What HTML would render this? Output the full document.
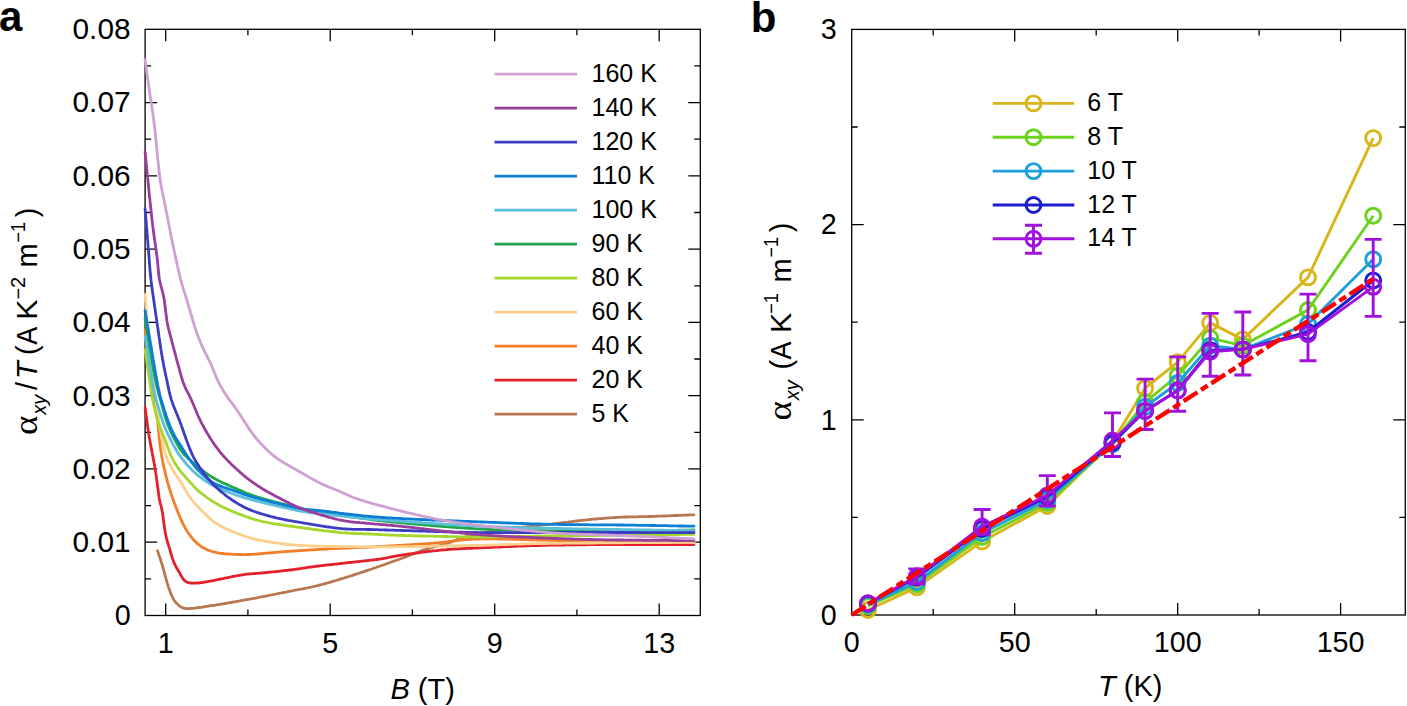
<!DOCTYPE html><html><head><meta charset="utf-8"><style>html,body{margin:0;padding:0;background:#fff;}svg{display:block;}</style></head><body>
<svg width="1407" height="706" viewBox="0 0 1407 706" font-family='"Liberation Sans", sans-serif'>
<rect width="1407" height="706" fill="#fff"/>
<g stroke="#000" stroke-width="1.3" fill="none">
<rect x="145.1" y="29.3" width="555.2" height="586.2"/>
<path d="M165.7,615.5v-12.0M165.7,29.3v12.0"/>
<path d="M247.9,615.5v-6.0M247.9,29.3v6.0"/>
<path d="M330.2,615.5v-12.0M330.2,29.3v12.0"/>
<path d="M412.4,615.5v-6.0M412.4,29.3v6.0"/>
<path d="M494.7,615.5v-12.0M494.7,29.3v12.0"/>
<path d="M576.9,615.5v-6.0M576.9,29.3v6.0"/>
<path d="M659.2,615.5v-12.0M659.2,29.3v12.0"/>
<path d="M145.1,578.9h6.0M700.3,578.9h-6.0"/>
<path d="M145.1,542.2h12.0M700.3,542.2h-12.0"/>
<path d="M145.1,505.6h6.0M700.3,505.6h-6.0"/>
<path d="M145.1,468.9h12.0M700.3,468.9h-12.0"/>
<path d="M145.1,432.3h6.0M700.3,432.3h-6.0"/>
<path d="M145.1,395.7h12.0M700.3,395.7h-12.0"/>
<path d="M145.1,359.0h6.0M700.3,359.0h-6.0"/>
<path d="M145.1,322.4h12.0M700.3,322.4h-12.0"/>
<path d="M145.1,285.8h6.0M700.3,285.8h-6.0"/>
<path d="M145.1,249.1h12.0M700.3,249.1h-12.0"/>
<path d="M145.1,212.5h6.0M700.3,212.5h-6.0"/>
<path d="M145.1,175.8h12.0M700.3,175.8h-12.0"/>
<path d="M145.1,139.2h6.0M700.3,139.2h-6.0"/>
<path d="M145.1,102.6h12.0M700.3,102.6h-12.0"/>
<path d="M145.1,65.9h6.0M700.3,65.9h-6.0"/>
</g>
<g fill="none" stroke-width="2.8" stroke-linejoin="round" stroke-linecap="round">
<path d="M157.5,550.7 L158.0,552.1 L158.5,553.5 L158.9,555.0 L159.4,556.4 L159.9,557.8 L160.4,559.2 L160.8,560.7 L161.3,562.1 L161.7,563.5 L162.2,565.0 L162.6,566.4 L163.0,567.8 L163.4,569.3 L163.8,570.7 L164.2,572.2 L164.6,573.6 L165.0,575.1 L165.4,576.5 L165.8,578.0 L166.2,579.4 L166.6,580.9 L167.0,582.3 L167.4,583.7 L167.9,585.2 L168.3,586.6 L168.8,588.0 L169.3,589.4 L169.8,590.8 L170.3,592.2 L170.9,593.6 L171.5,595.0 L172.1,596.4 L172.7,597.7 L173.4,599.0 L174.2,600.3 L175.1,601.5 L176.0,602.7 L177.0,603.8 L178.1,604.8 L179.2,605.8 L180.4,606.6 L181.7,607.3 L183.0,607.9 L184.4,608.3 L185.9,608.5 L187.3,608.6 L188.8,608.6 L190.3,608.5 L191.8,608.4 L193.3,608.3 L194.8,608.1 L196.3,607.9 L197.8,607.7 L199.2,607.5 L200.7,607.3 L202.2,607.1 L203.7,606.8 L205.2,606.6 L206.7,606.4 L208.1,606.2 L209.6,605.9 L211.1,605.7 L212.6,605.5 L214.1,605.3 L215.6,605.0 L217.0,604.8 L218.5,604.5 L220.0,604.3 L221.5,604.0 L223.0,603.8 L224.4,603.6 L225.9,603.3 L227.4,603.0 L228.9,602.8 L230.4,602.5 L231.8,602.3 L233.3,602.0 L234.8,601.8 L236.3,601.5 L237.7,601.3 L239.2,601.0 L240.7,600.7 L242.2,600.5 L243.7,600.2 L245.1,599.9 L246.6,599.7 L248.1,599.4 L249.6,599.1 L251.0,598.9 L252.5,598.6 L254.0,598.3 L255.5,598.1 L256.9,597.8 L258.4,597.5 L259.9,597.2 L261.3,596.9 L262.8,596.7 L264.3,596.4 L265.8,596.1 L267.2,595.8 L268.7,595.5 L270.2,595.2 L271.7,594.9 L273.1,594.6 L274.6,594.3 L276.1,594.0 L277.5,593.7 L279.0,593.4 L280.5,593.2 L281.9,592.9 L283.4,592.6 L284.9,592.3 L286.4,592.0 L287.8,591.7 L289.3,591.4 L290.8,591.1 L292.2,590.8 L293.7,590.5 L295.2,590.2 L296.7,589.9 L298.1,589.7 L299.6,589.4 L301.1,589.1 L302.6,588.8 L304.0,588.5 L305.5,588.3 L307.0,588.0 L308.4,587.7 L309.9,587.4 L311.4,587.0 L312.8,586.7 L314.3,586.4 L315.8,586.0 L317.2,585.7 L318.7,585.3 L320.1,584.9 L321.6,584.6 L323.0,584.2 L324.5,583.8 L325.9,583.4 L327.4,583.0 L328.8,582.6 L330.3,582.2 L331.7,581.7 L333.1,581.3 L334.6,580.9 L336.0,580.5 L337.4,580.0 L338.9,579.6 L340.3,579.1 L341.7,578.7 L343.2,578.3 L344.6,577.8 L346.0,577.4 L347.5,576.9 L348.9,576.5 L350.3,576.0 L351.8,575.6 L353.2,575.1 L354.6,574.6 L356.0,574.2 L357.5,573.7 L358.9,573.3 L360.3,572.8 L361.8,572.3 L363.2,571.9 L364.6,571.4 L366.0,570.9 L367.4,570.4 L368.9,569.9 L370.3,569.5 L371.7,569.0 L373.1,568.5 L374.5,568.0 L376.0,567.5 L377.4,567.0 L378.8,566.5 L380.2,566.0 L381.6,565.5 L383.0,565.0 L384.5,564.5 L385.9,564.0 L387.3,563.5 L388.7,563.0 L390.1,562.5 L391.5,562.0 L392.9,561.5 L394.3,561.0 L395.8,560.5 L397.2,560.0 L398.6,559.5 L400.0,559.0 L401.4,558.5 L402.8,558.0 L404.2,557.4 L405.6,556.9 L407.0,556.4 L408.4,555.8 L409.8,555.3 L411.2,554.7 L412.6,554.2 L414.0,553.6 L415.4,553.1 L416.8,552.5 L418.2,552.0 L419.6,551.5 L421.0,550.9 L422.4,550.4 L423.8,549.9 L425.2,549.5 L426.7,549.0 L428.1,548.6 L429.5,548.1 L431.0,547.7 L432.4,547.3 L433.9,547.0 L435.3,546.6 L436.8,546.2 L438.3,545.9 L439.7,545.5 L441.2,545.1 L442.6,544.8 L444.1,544.4 L445.5,544.0 L446.9,543.5 L448.4,543.1 L449.8,542.5 L451.2,542.0 L452.6,541.4 L453.9,540.9 L455.3,540.3 L456.7,539.8 L458.1,539.3 L459.6,538.8 L461.0,538.3 L462.4,537.9 L463.9,537.5 L465.3,537.0 L466.7,536.6 L468.2,536.2 L469.6,535.8 L471.1,535.5 L472.5,535.1 L474.0,534.8 L475.5,534.4 L476.9,534.1 L478.4,533.8 L479.9,533.5 L481.4,533.3 L482.8,533.0 L484.3,532.7 L485.8,532.5 L487.3,532.2 L488.7,532.0 L490.2,531.8 L491.7,531.5 L493.2,531.3 L494.7,531.1 L496.2,530.8 L497.6,530.6 L499.1,530.4 L500.6,530.2 L502.1,530.0 L503.6,529.7 L505.1,529.5 L506.5,529.3 L508.0,529.1 L509.5,528.9 L511.0,528.7 L512.5,528.5 L514.0,528.3 L515.5,528.1 L516.9,527.9 L518.4,527.7 L519.9,527.5 L521.4,527.3 L522.9,527.1 L524.4,527.0 L525.9,526.8 L527.4,526.6 L528.9,526.4 L530.3,526.3 L531.8,526.1 L533.3,525.9 L534.8,525.8 L536.3,525.6 L537.8,525.5 L539.3,525.3 L540.8,525.1 L542.3,525.0 L543.8,524.8 L545.3,524.7 L546.8,524.5 L548.2,524.4 L549.7,524.2 L551.2,524.1 L552.7,523.9 L554.2,523.7 L555.7,523.6 L557.2,523.4 L558.7,523.2 L560.2,523.1 L561.7,522.9 L563.2,522.7 L564.6,522.5 L566.1,522.3 L567.6,522.2 L569.1,522.0 L570.6,521.8 L572.1,521.6 L573.6,521.4 L575.1,521.2 L576.5,521.0 L578.0,520.8 L579.5,520.6 L581.0,520.4 L582.5,520.3 L584.0,520.1 L585.5,520.0 L587.0,519.8 L588.5,519.7 L590.0,519.5 L591.5,519.4 L592.9,519.2 L594.4,519.1 L595.9,519.0 L597.4,518.8 L598.9,518.7 L600.4,518.6 L601.9,518.5 L603.4,518.3 L604.9,518.2 L606.4,518.1 L607.9,518.0 L609.4,517.9 L610.9,517.8 L612.4,517.7 L613.9,517.6 L615.4,517.5 L616.9,517.4 L618.4,517.3 L619.9,517.2 L621.4,517.2 L622.9,517.1 L624.4,517.0 L625.9,517.0 L627.4,517.0 L628.9,516.9 L630.4,516.9 L631.9,516.9 L633.4,516.8 L634.9,516.8 L636.4,516.8 L637.9,516.8 L639.4,516.7 L640.9,516.7 L642.4,516.7 L643.9,516.7 L645.4,516.6 L646.9,516.6 L648.4,516.5 L649.9,516.5 L651.4,516.5 L652.9,516.4 L654.4,516.3 L655.9,516.3 L657.4,516.2 L658.9,516.2 L660.4,516.1 L661.9,516.1 L663.4,516.0 L664.8,516.0 L666.3,515.9 L667.8,515.8 L669.3,515.8 L670.8,515.7 L672.3,515.7 L673.8,515.6 L675.3,515.5 L676.8,515.5 L678.3,515.4 L679.8,515.4 L681.3,515.3 L682.8,515.2 L684.3,515.2 L685.8,515.1 L687.3,515.1 L688.8,515.0 L690.3,514.9 L691.7,514.9 L693.1,514.8 L694.0,514.8" stroke="#b7774f"/>
<path d="M145.1,407.8 L145.3,409.3 L145.5,410.8 L145.7,412.3 L145.9,413.7 L146.1,415.2 L146.3,416.7 L146.5,418.2 L146.7,419.7 L146.9,421.2 L147.1,422.7 L147.3,424.2 L147.5,425.6 L147.7,427.1 L147.9,428.6 L148.1,430.1 L148.4,431.6 L148.6,433.1 L148.8,434.5 L149.1,436.0 L149.3,437.5 L149.6,439.0 L149.9,440.5 L150.1,441.9 L150.4,443.4 L150.7,444.9 L150.9,446.4 L151.2,447.8 L151.5,449.3 L151.8,450.8 L152.1,452.2 L152.3,453.7 L152.6,455.2 L152.9,456.7 L153.2,458.1 L153.5,459.6 L153.7,461.1 L154.0,462.6 L154.3,464.0 L154.6,465.5 L154.8,467.0 L155.1,468.5 L155.3,470.0 L155.5,471.4 L155.7,472.9 L156.0,474.4 L156.2,475.9 L156.4,477.4 L156.6,478.9 L156.8,480.3 L157.0,481.8 L157.2,483.3 L157.4,484.8 L157.6,486.3 L157.8,487.8 L158.0,489.3 L158.2,490.8 L158.4,492.2 L158.6,493.7 L158.8,495.2 L159.0,496.7 L159.2,498.2 L159.5,499.7 L159.8,501.1 L160.1,502.6 L160.5,504.0 L160.9,505.5 L161.3,506.9 L161.6,508.4 L162.0,509.8 L162.2,511.3 L162.5,512.8 L162.7,514.3 L162.9,515.7 L163.1,517.2 L163.3,518.7 L163.5,520.2 L163.7,521.7 L163.9,523.2 L164.1,524.7 L164.3,526.2 L164.5,527.6 L164.7,529.1 L164.9,530.6 L165.2,532.1 L165.5,533.6 L165.8,535.0 L166.1,536.5 L166.4,537.9 L166.8,539.4 L167.2,540.8 L167.6,542.3 L168.1,543.7 L168.5,545.2 L168.9,546.6 L169.4,548.0 L169.8,549.5 L170.2,550.9 L170.6,552.3 L171.1,553.8 L171.5,555.2 L171.9,556.7 L172.3,558.1 L172.8,559.5 L173.3,560.9 L173.9,562.3 L174.5,563.7 L175.1,565.0 L175.8,566.4 L176.5,567.7 L177.3,569.0 L178.0,570.3 L178.8,571.6 L179.6,572.8 L180.3,574.1 L181.0,575.5 L181.8,576.8 L182.5,578.0 L183.3,579.2 L184.3,580.3 L185.4,581.2 L186.6,581.9 L187.9,582.4 L189.3,582.8 L190.8,583.0 L192.3,583.2 L193.8,583.2 L195.3,583.2 L196.8,583.2 L198.2,583.0 L199.7,582.9 L201.2,582.7 L202.7,582.5 L204.2,582.2 L205.7,582.0 L207.1,581.7 L208.6,581.4 L210.1,581.1 L211.6,580.8 L213.0,580.6 L214.5,580.3 L216.0,580.0 L217.5,579.7 L218.9,579.4 L220.4,579.1 L221.9,578.8 L223.3,578.5 L224.8,578.2 L226.3,577.9 L227.7,577.6 L229.2,577.3 L230.7,577.0 L232.1,576.7 L233.6,576.4 L235.1,576.1 L236.6,575.8 L238.0,575.5 L239.5,575.3 L241.0,575.0 L242.5,574.8 L243.9,574.6 L245.4,574.4 L246.9,574.2 L248.4,574.0 L249.9,573.9 L251.4,573.8 L252.9,573.7 L254.4,573.6 L255.9,573.4 L257.4,573.3 L258.9,573.2 L260.4,573.1 L261.9,572.9 L263.4,572.8 L264.9,572.6 L266.3,572.5 L267.8,572.4 L269.3,572.2 L270.8,572.1 L272.3,571.9 L273.8,571.8 L275.3,571.6 L276.8,571.5 L278.3,571.3 L279.8,571.2 L281.3,571.0 L282.8,570.9 L284.3,570.7 L285.7,570.5 L287.2,570.4 L288.7,570.2 L290.2,570.0 L291.7,569.8 L293.2,569.6 L294.7,569.4 L296.2,569.2 L297.6,569.0 L299.1,568.8 L300.6,568.5 L302.1,568.3 L303.6,568.1 L305.1,567.9 L306.5,567.6 L308.0,567.4 L309.5,567.2 L311.0,567.0 L312.5,566.8 L314.0,566.6 L315.5,566.4 L316.9,566.2 L318.4,566.0 L319.9,565.8 L321.4,565.6 L322.9,565.5 L324.4,565.3 L325.9,565.1 L327.4,564.9 L328.9,564.8 L330.4,564.6 L331.8,564.5 L333.3,564.3 L334.8,564.1 L336.3,564.0 L337.8,563.8 L339.3,563.6 L340.8,563.5 L342.3,563.3 L343.8,563.2 L345.3,563.0 L346.8,562.9 L348.3,562.7 L349.7,562.5 L351.2,562.4 L352.7,562.2 L354.2,562.1 L355.7,561.9 L357.2,561.7 L358.7,561.6 L360.2,561.4 L361.7,561.2 L363.2,561.1 L364.7,560.9 L366.1,560.7 L367.6,560.6 L369.1,560.4 L370.6,560.2 L372.1,560.1 L373.6,559.9 L375.1,559.7 L376.6,559.5 L378.1,559.3 L379.5,559.1 L381.0,558.8 L382.5,558.6 L384.0,558.4 L385.5,558.1 L386.9,557.8 L388.4,557.5 L389.9,557.2 L391.3,556.9 L392.8,556.6 L394.3,556.3 L395.7,556.0 L397.2,555.8 L398.7,555.5 L400.2,555.3 L401.7,555.1 L403.2,554.8 L404.6,554.6 L406.1,554.4 L407.6,554.2 L409.1,554.0 L410.6,553.8 L412.1,553.6 L413.5,553.4 L415.0,553.2 L416.5,553.0 L418.0,552.8 L419.5,552.6 L421.0,552.4 L422.5,552.2 L424.0,552.0 L425.4,551.8 L426.9,551.6 L428.4,551.4 L429.9,551.3 L431.4,551.1 L432.9,550.9 L434.4,550.8 L435.9,550.6 L437.4,550.5 L438.9,550.3 L440.4,550.2 L441.9,550.0 L443.3,549.9 L444.8,549.8 L446.3,549.7 L447.8,549.5 L449.3,549.4 L450.8,549.3 L452.3,549.2 L453.8,549.1 L455.3,549.0 L456.8,549.0 L458.3,548.9 L459.8,548.8 L461.3,548.7 L462.8,548.7 L464.3,548.6 L465.8,548.5 L467.3,548.4 L468.8,548.4 L470.3,548.3 L471.8,548.3 L473.3,548.2 L474.8,548.1 L476.3,548.1 L477.8,548.0 L479.3,547.9 L480.8,547.9 L482.3,547.8 L483.8,547.7 L485.3,547.7 L486.8,547.6 L488.3,547.5 L489.8,547.5 L491.3,547.4 L492.8,547.3 L494.3,547.2 L495.8,547.2 L497.3,547.1 L498.8,547.0 L500.3,547.0 L501.8,546.9 L503.3,546.8 L504.8,546.7 L506.3,546.7 L507.8,546.6 L509.3,546.5 L510.8,546.5 L512.3,546.4 L513.8,546.3 L515.3,546.3 L516.7,546.2 L518.2,546.2 L519.7,546.1 L521.2,546.0 L522.7,546.0 L524.2,545.9 L525.7,545.9 L527.2,545.8 L528.7,545.8 L530.2,545.7 L531.7,545.7 L533.2,545.6 L534.7,545.6 L536.2,545.5 L537.7,545.5 L539.2,545.5 L540.7,545.4 L542.2,545.4 L543.7,545.3 L545.2,545.3 L546.7,545.3 L548.2,545.2 L549.7,545.2 L551.2,545.2 L552.7,545.1 L554.2,545.1 L555.7,545.1 L557.2,545.0 L558.7,545.0 L560.2,545.0 L561.7,545.0 L563.2,545.0 L564.7,544.9 L566.2,544.9 L567.7,544.9 L569.2,544.9 L570.7,544.9 L572.2,544.9 L573.7,544.8 L575.2,544.8 L576.7,544.8 L578.2,544.8 L579.7,544.8 L581.2,544.8 L582.7,544.8 L584.2,544.8 L585.7,544.8 L587.2,544.7 L588.7,544.7 L590.2,544.7 L591.7,544.7 L593.2,544.7 L594.7,544.7 L596.2,544.7 L597.7,544.7 L599.2,544.7 L600.7,544.7 L602.2,544.7 L603.7,544.7 L605.2,544.7 L606.7,544.7 L608.2,544.7 L609.7,544.7 L611.2,544.7 L612.7,544.6 L614.2,544.6 L615.7,544.6 L617.2,544.6 L618.7,544.6 L620.2,544.6 L621.7,544.6 L623.2,544.6 L624.7,544.6 L626.2,544.6 L627.7,544.6 L629.2,544.6 L630.7,544.6 L632.2,544.6 L633.7,544.6 L635.2,544.6 L636.7,544.6 L638.2,544.6 L639.7,544.6 L641.2,544.6 L642.7,544.6 L644.2,544.6 L645.7,544.6 L647.2,544.6 L648.7,544.6 L650.2,544.6 L651.7,544.6 L653.2,544.6 L654.7,544.6 L656.2,544.6 L657.7,544.6 L659.2,544.6 L660.7,544.6 L662.2,544.6 L663.7,544.6 L665.2,544.6 L666.7,544.6 L668.2,544.6 L669.7,544.6 L671.2,544.6 L672.7,544.6 L674.2,544.6 L675.7,544.6 L677.2,544.6 L678.7,544.6 L680.2,544.6 L681.7,544.6 L683.2,544.6 L684.7,544.6 L686.2,544.6 L687.7,544.6 L689.2,544.6 L690.7,544.6 L692.1,544.6 L693.5,544.6 L694.0,544.6" stroke="#e3202b"/>
<path d="M145.1,330.0 L145.2,331.5 L145.4,333.0 L145.5,334.5 L145.7,336.0 L145.8,337.5 L145.9,339.0 L146.1,340.5 L146.2,341.9 L146.4,343.4 L146.5,344.9 L146.6,346.4 L146.8,347.9 L147.0,349.4 L147.1,350.9 L147.3,352.4 L147.5,353.9 L147.7,355.4 L147.9,356.9 L148.1,358.3 L148.3,359.8 L148.5,361.3 L148.8,362.8 L149.1,364.3 L149.3,365.7 L149.6,367.2 L149.9,368.7 L150.2,370.2 L150.5,371.6 L150.8,373.1 L151.1,374.6 L151.4,376.0 L151.6,377.5 L151.9,379.0 L152.2,380.5 L152.5,381.9 L152.7,383.4 L153.0,384.9 L153.2,386.4 L153.4,387.9 L153.7,389.3 L153.9,390.8 L154.1,392.3 L154.3,393.8 L154.5,395.3 L154.7,396.8 L154.9,398.2 L155.1,399.7 L155.3,401.2 L155.5,402.7 L155.7,404.2 L155.9,405.7 L156.1,407.2 L156.2,408.7 L156.4,410.2 L156.6,411.6 L156.8,413.1 L156.9,414.6 L157.1,416.1 L157.3,417.6 L157.4,419.1 L157.6,420.6 L157.7,422.1 L157.9,423.6 L158.0,425.1 L158.2,426.6 L158.3,428.1 L158.4,429.5 L158.6,431.0 L158.7,432.5 L158.9,434.0 L159.0,435.5 L159.2,437.0 L159.3,438.5 L159.5,440.0 L159.6,441.5 L159.8,443.0 L160.0,444.5 L160.2,446.0 L160.3,447.4 L160.6,448.9 L160.8,450.4 L161.0,451.9 L161.2,453.4 L161.5,454.9 L161.7,456.3 L162.0,457.8 L162.3,459.3 L162.6,460.8 L162.9,462.2 L163.2,463.7 L163.5,465.2 L163.8,466.6 L164.1,468.1 L164.5,469.6 L164.8,471.0 L165.1,472.5 L165.5,473.9 L165.8,475.4 L166.2,476.8 L166.6,478.3 L167.0,479.8 L167.3,481.2 L167.7,482.6 L168.2,484.1 L168.6,485.5 L169.0,487.0 L169.4,488.4 L169.9,489.8 L170.3,491.3 L170.8,492.7 L171.2,494.1 L171.7,495.5 L172.2,497.0 L172.7,498.4 L173.2,499.8 L173.7,501.2 L174.2,502.6 L174.7,504.0 L175.2,505.4 L175.8,506.8 L176.3,508.2 L176.9,509.6 L177.4,511.0 L178.0,512.4 L178.6,513.8 L179.1,515.2 L179.7,516.6 L180.3,517.9 L180.9,519.3 L181.5,520.7 L182.2,522.0 L182.8,523.4 L183.5,524.7 L184.2,526.1 L184.9,527.4 L185.6,528.7 L186.4,530.0 L187.2,531.2 L188.0,532.5 L188.8,533.7 L189.7,535.0 L190.6,536.2 L191.5,537.3 L192.5,538.5 L193.5,539.6 L194.5,540.7 L195.6,541.8 L196.6,542.8 L197.8,543.8 L198.9,544.8 L200.1,545.7 L201.3,546.5 L202.6,547.3 L203.9,548.1 L205.2,548.8 L206.6,549.4 L207.9,550.0 L209.3,550.5 L210.7,551.0 L212.2,551.5 L213.6,551.9 L215.1,552.2 L216.5,552.6 L218.0,552.8 L219.5,553.1 L221.0,553.3 L222.5,553.5 L223.9,553.7 L225.4,553.8 L226.9,553.9 L228.4,554.0 L229.9,554.1 L231.4,554.2 L232.9,554.3 L234.4,554.4 L235.9,554.4 L237.4,554.5 L238.9,554.5 L240.4,554.5 L241.9,554.6 L243.4,554.6 L244.9,554.6 L246.4,554.6 L247.9,554.5 L249.4,554.5 L250.9,554.4 L252.4,554.3 L253.9,554.2 L255.4,554.1 L256.9,554.0 L258.4,553.8 L259.9,553.7 L261.4,553.6 L262.9,553.5 L264.4,553.4 L265.9,553.2 L267.4,553.1 L268.8,553.0 L270.3,552.8 L271.8,552.7 L273.3,552.6 L274.8,552.4 L276.3,552.3 L277.8,552.2 L279.3,552.1 L280.8,551.9 L282.3,551.8 L283.8,551.7 L285.3,551.6 L286.8,551.5 L288.3,551.4 L289.8,551.3 L291.3,551.2 L292.8,551.1 L294.3,551.0 L295.8,550.9 L297.3,550.8 L298.8,550.7 L300.3,550.6 L301.8,550.5 L303.2,550.4 L304.7,550.3 L306.2,550.2 L307.7,550.1 L309.2,550.0 L310.7,549.9 L312.2,549.9 L313.7,549.8 L315.2,549.7 L316.7,549.6 L318.2,549.5 L319.7,549.4 L321.2,549.3 L322.7,549.2 L324.2,549.2 L325.7,549.1 L327.2,549.0 L328.7,548.9 L330.2,548.8 L331.7,548.7 L333.2,548.7 L334.7,548.6 L336.2,548.5 L337.7,548.4 L339.2,548.3 L340.7,548.3 L342.2,548.2 L343.7,548.1 L345.2,548.1 L346.7,548.0 L348.2,547.9 L349.7,547.9 L351.2,547.8 L352.7,547.7 L354.2,547.7 L355.7,547.6 L357.2,547.6 L358.7,547.5 L360.2,547.4 L361.7,547.4 L363.2,547.3 L364.7,547.3 L366.2,547.2 L367.7,547.1 L369.2,547.1 L370.7,547.0 L372.2,546.9 L373.7,546.9 L375.2,546.8 L376.7,546.7 L378.2,546.6 L379.6,546.5 L381.1,546.4 L382.6,546.4 L384.1,546.3 L385.6,546.2 L387.1,546.1 L388.6,546.0 L390.1,545.9 L391.6,545.9 L393.1,545.8 L394.6,545.7 L396.1,545.6 L397.6,545.5 L399.1,545.4 L400.6,545.3 L402.1,545.2 L403.6,545.2 L405.1,545.1 L406.6,545.0 L408.1,544.9 L409.6,544.8 L411.1,544.7 L412.6,544.6 L414.1,544.5 L415.6,544.4 L417.1,544.3 L418.6,544.2 L420.1,544.1 L421.6,544.0 L423.1,543.9 L424.6,543.8 L426.1,543.7 L427.6,543.6 L429.1,543.5 L430.6,543.4 L432.0,543.3 L433.5,543.2 L435.0,543.0 L436.5,542.9 L438.0,542.8 L439.5,542.6 L441.0,542.5 L442.5,542.3 L444.0,542.1 L445.5,542.0 L447.0,541.8 L448.5,541.6 L449.9,541.4 L451.4,541.2 L452.9,541.0 L454.4,540.8 L455.9,540.7 L457.4,540.5 L458.9,540.3 L460.4,540.1 L461.9,540.0 L463.4,539.9 L464.8,539.7 L466.3,539.6 L467.8,539.5 L469.3,539.4 L470.8,539.3 L472.3,539.2 L473.8,539.1 L475.3,539.1 L476.8,539.0 L478.3,539.0 L479.8,538.9 L481.3,538.9 L482.8,538.9 L484.3,538.8 L485.8,538.8 L487.3,538.8 L488.8,538.8 L490.3,538.8 L491.8,538.8 L493.3,538.9 L494.8,538.9 L496.3,538.9 L497.8,538.9 L499.3,538.9 L500.8,539.0 L502.3,539.0 L503.8,539.0 L505.3,539.1 L506.8,539.1 L508.3,539.1 L509.8,539.2 L511.3,539.2 L512.8,539.3 L514.3,539.3 L515.8,539.4 L517.3,539.4 L518.8,539.4 L520.3,539.5 L521.8,539.5 L523.3,539.6 L524.8,539.6 L526.3,539.7 L527.8,539.7 L529.3,539.8 L530.8,539.8 L532.3,539.9 L533.8,539.9 L535.3,539.9 L536.8,540.0 L538.3,540.0 L539.8,540.1 L541.3,540.1 L542.8,540.1 L544.3,540.2 L545.8,540.2 L547.3,540.2 L548.8,540.3 L550.3,540.3 L551.8,540.3 L553.3,540.4 L554.8,540.4 L556.3,540.4 L557.8,540.5 L559.3,540.5 L560.8,540.5 L562.3,540.5 L563.8,540.6 L565.3,540.6 L566.8,540.6 L568.3,540.6 L569.8,540.6 L571.3,540.7 L572.8,540.7 L574.3,540.7 L575.8,540.7 L577.3,540.8 L578.8,540.8 L580.3,540.8 L581.8,540.8 L583.3,540.8 L584.8,540.9 L586.3,540.9 L587.8,540.9 L589.3,540.9 L590.8,540.9 L592.3,541.0 L593.8,541.0 L595.3,541.0 L596.8,541.0 L598.3,541.1 L599.8,541.1 L601.3,541.1 L602.8,541.1 L604.3,541.1 L605.8,541.2 L607.3,541.2 L608.8,541.2 L610.3,541.2 L611.8,541.2 L613.3,541.3 L614.8,541.3 L616.3,541.3 L617.8,541.3 L619.3,541.3 L620.8,541.4 L622.3,541.4 L623.8,541.4 L625.3,541.4 L626.8,541.4 L628.3,541.5 L629.8,541.5 L631.3,541.5 L632.8,541.5 L634.3,541.5 L635.8,541.5 L637.3,541.6 L638.8,541.6 L640.3,541.6 L641.8,541.6 L643.3,541.6 L644.8,541.7 L646.3,541.7 L647.8,541.7 L649.3,541.7 L650.8,541.7 L652.3,541.8 L653.8,541.8 L655.3,541.8 L656.8,541.8 L658.3,541.8 L659.8,541.9 L661.3,541.9 L662.8,541.9 L664.3,541.9 L665.8,541.9 L667.3,542.0 L668.8,542.0 L670.3,542.0 L671.8,542.0 L673.3,542.0 L674.8,542.1 L676.3,542.1 L677.8,542.1 L679.3,542.1 L680.8,542.1 L682.3,542.1 L683.8,542.2 L685.3,542.2 L686.8,542.2 L688.3,542.2 L689.8,542.2 L691.2,542.3 L692.6,542.3 L694.0,542.3" stroke="#f47d2a"/>
<path d="M145.1,294.4 L145.2,295.9 L145.3,297.4 L145.4,298.9 L145.5,300.4 L145.6,301.9 L145.8,303.4 L145.9,304.9 L146.0,306.4 L146.1,307.9 L146.2,309.4 L146.3,310.9 L146.4,312.4 L146.5,313.8 L146.6,315.3 L146.8,316.8 L146.9,318.3 L147.0,319.8 L147.1,321.3 L147.2,322.8 L147.3,324.3 L147.4,325.8 L147.6,327.3 L147.7,328.8 L147.8,330.3 L147.9,331.8 L148.0,333.3 L148.1,334.8 L148.2,336.3 L148.4,337.8 L148.5,339.3 L148.6,340.8 L148.7,342.3 L148.9,343.8 L149.0,345.2 L149.2,346.7 L149.3,348.2 L149.5,349.7 L149.7,351.2 L149.8,352.7 L150.0,354.2 L150.2,355.7 L150.4,357.2 L150.6,358.7 L150.8,360.1 L151.0,361.6 L151.2,363.1 L151.4,364.6 L151.6,366.1 L151.9,367.6 L152.1,369.1 L152.3,370.5 L152.5,372.0 L152.7,373.5 L152.9,375.0 L153.1,376.5 L153.3,378.0 L153.5,379.4 L153.7,380.9 L153.9,382.4 L154.1,383.9 L154.3,385.4 L154.5,386.9 L154.6,388.4 L154.8,389.9 L155.0,391.4 L155.2,392.8 L155.3,394.3 L155.5,395.8 L155.7,397.3 L155.9,398.8 L156.1,400.3 L156.2,401.8 L156.4,403.3 L156.6,404.8 L156.8,406.2 L157.0,407.7 L157.2,409.2 L157.4,410.7 L157.6,412.2 L157.8,413.7 L158.0,415.2 L158.3,416.6 L158.5,418.1 L158.7,419.6 L158.9,421.1 L159.1,422.6 L159.4,424.1 L159.6,425.5 L159.8,427.0 L160.1,428.5 L160.3,430.0 L160.6,431.5 L160.8,432.9 L161.1,434.4 L161.3,435.9 L161.6,437.4 L161.9,438.9 L162.2,440.3 L162.4,441.8 L162.8,443.3 L163.1,444.7 L163.4,446.2 L163.8,447.7 L164.1,449.1 L164.5,450.6 L164.9,452.0 L165.4,453.4 L165.8,454.9 L166.3,456.3 L166.8,457.7 L167.4,459.1 L168.0,460.5 L168.6,461.8 L169.2,463.2 L169.8,464.5 L170.5,465.9 L171.2,467.2 L171.9,468.5 L172.6,469.8 L173.4,471.1 L174.2,472.4 L175.1,473.6 L175.9,474.9 L176.8,476.1 L177.6,477.3 L178.5,478.6 L179.3,479.8 L180.1,481.1 L180.9,482.3 L181.7,483.6 L182.5,484.9 L183.2,486.2 L183.9,487.5 L184.7,488.8 L185.4,490.1 L186.2,491.4 L186.9,492.7 L187.7,494.0 L188.6,495.2 L189.4,496.5 L190.3,497.7 L191.2,498.9 L192.1,500.1 L193.0,501.2 L194.0,502.4 L195.0,503.5 L195.9,504.7 L197.0,505.8 L198.0,506.9 L199.0,508.0 L200.1,509.0 L201.1,510.1 L202.2,511.2 L203.2,512.2 L204.3,513.3 L205.4,514.3 L206.4,515.4 L207.5,516.4 L208.6,517.4 L209.8,518.4 L210.9,519.4 L212.1,520.3 L213.2,521.3 L214.4,522.1 L215.7,523.0 L216.9,523.8 L218.2,524.6 L219.5,525.4 L220.8,526.1 L222.1,526.8 L223.4,527.5 L224.8,528.2 L226.1,528.8 L227.5,529.4 L228.9,530.0 L230.3,530.6 L231.6,531.2 L233.0,531.8 L234.4,532.3 L235.8,532.9 L237.2,533.4 L238.6,534.0 L240.0,534.5 L241.4,535.0 L242.8,535.5 L244.3,536.0 L245.7,536.5 L247.1,536.9 L248.6,537.3 L250.0,537.8 L251.4,538.1 L252.9,538.5 L254.3,538.9 L255.8,539.2 L257.3,539.6 L258.7,539.9 L260.2,540.2 L261.7,540.5 L263.1,540.8 L264.6,541.1 L266.1,541.4 L267.6,541.7 L269.0,541.9 L270.5,542.1 L272.0,542.4 L273.5,542.6 L275.0,542.8 L276.5,543.0 L277.9,543.2 L279.4,543.4 L280.9,543.6 L282.4,543.8 L283.9,544.0 L285.4,544.1 L286.9,544.3 L288.4,544.5 L289.9,544.6 L291.3,544.8 L292.8,544.9 L294.3,545.0 L295.8,545.1 L297.3,545.2 L298.8,545.3 L300.3,545.4 L301.8,545.5 L303.3,545.6 L304.8,545.6 L306.3,545.7 L307.8,545.8 L309.3,545.8 L310.8,545.9 L312.3,546.0 L313.8,546.0 L315.3,546.1 L316.8,546.1 L318.3,546.2 L319.8,546.2 L321.3,546.2 L322.8,546.3 L324.3,546.3 L325.8,546.4 L327.3,546.4 L328.8,546.4 L330.3,546.4 L331.8,546.5 L333.3,546.5 L334.8,546.5 L336.3,546.5 L337.8,546.6 L339.3,546.6 L340.8,546.6 L342.3,546.6 L343.8,546.6 L345.3,546.7 L346.8,546.7 L348.3,546.7 L349.8,546.7 L351.3,546.7 L352.8,546.7 L354.3,546.7 L355.8,546.7 L357.3,546.8 L358.8,546.8 L360.3,546.8 L361.8,546.8 L363.3,546.8 L364.8,546.8 L366.3,546.8 L367.8,546.8 L369.3,546.8 L370.8,546.8 L372.3,546.8 L373.8,546.8 L375.3,546.8 L376.8,546.8 L378.3,546.8 L379.8,546.8 L381.3,546.8 L382.8,546.8 L384.3,546.8 L385.8,546.8 L387.3,546.8 L388.8,546.8 L390.3,546.8 L391.8,546.8 L393.3,546.8 L394.8,546.7 L396.3,546.7 L397.8,546.7 L399.3,546.7 L400.8,546.7 L402.3,546.7 L403.8,546.7 L405.3,546.6 L406.8,546.6 L408.3,546.6 L409.8,546.6 L411.3,546.6 L412.8,546.6 L414.3,546.5 L415.8,546.5 L417.3,546.5 L418.8,546.5 L420.3,546.4 L421.8,546.4 L423.3,546.4 L424.8,546.4 L426.3,546.3 L427.8,546.3 L429.3,546.3 L430.8,546.3 L432.3,546.2 L433.8,546.2 L435.3,546.2 L436.8,546.2 L438.3,546.1 L439.8,546.1 L441.3,546.1 L442.8,546.1 L444.3,546.0 L445.8,546.0 L447.3,546.0 L448.8,545.9 L450.3,545.9 L451.8,545.9 L453.3,545.9 L454.8,545.8 L456.3,545.8 L457.8,545.8 L459.3,545.7 L460.8,545.7 L462.3,545.7 L463.8,545.6 L465.3,545.6 L466.8,545.6 L468.3,545.6 L469.8,545.5 L471.3,545.5 L472.8,545.5 L474.3,545.4 L475.8,545.4 L477.3,545.4 L478.8,545.3 L480.3,545.3 L481.8,545.3 L483.3,545.2 L484.8,545.2 L486.3,545.1 L487.8,545.1 L489.3,545.1 L490.8,545.0 L492.3,545.0 L493.8,544.9 L495.3,544.9 L496.8,544.8 L498.3,544.8 L499.8,544.7 L501.3,544.7 L502.8,544.6 L504.3,544.6 L505.8,544.5 L507.3,544.5 L508.8,544.4 L510.3,544.4 L511.8,544.3 L513.3,544.3 L514.8,544.2 L516.3,544.2 L517.8,544.1 L519.3,544.1 L520.8,544.0 L522.3,544.0 L523.8,543.9 L525.3,543.9 L526.8,543.9 L528.3,543.8 L529.8,543.8 L531.3,543.7 L532.8,543.7 L534.3,543.7 L535.8,543.6 L537.3,543.6 L538.8,543.6 L540.3,543.6 L541.8,543.5 L543.3,543.5 L544.8,543.5 L546.3,543.5 L547.8,543.4 L549.3,543.4 L550.8,543.4 L552.3,543.4 L553.8,543.4 L555.3,543.3 L556.8,543.3 L558.3,543.3 L559.8,543.3 L561.3,543.3 L562.8,543.2 L564.3,543.2 L565.8,543.2 L567.3,543.2 L568.8,543.2 L570.3,543.2 L571.8,543.2 L573.3,543.1 L574.8,543.1 L576.3,543.1 L577.8,543.1 L579.3,543.1 L580.8,543.1 L582.3,543.1 L583.8,543.0 L585.3,543.0 L586.8,543.0 L588.3,543.0 L589.8,543.0 L591.3,543.0 L592.8,543.0 L594.3,543.0 L595.8,542.9 L597.3,542.9 L598.8,542.9 L600.3,542.9 L601.8,542.9 L603.3,542.9 L604.8,542.9 L606.3,542.9 L607.8,542.9 L609.3,542.8 L610.8,542.8 L612.3,542.8 L613.8,542.8 L615.3,542.8 L616.8,542.8 L618.3,542.8 L619.8,542.8 L621.3,542.8 L622.8,542.8 L624.3,542.7 L625.8,542.7 L627.3,542.7 L628.8,542.7 L630.3,542.7 L631.8,542.7 L633.3,542.7 L634.8,542.7 L636.3,542.7 L637.8,542.7 L639.3,542.6 L640.8,542.6 L642.3,542.6 L643.8,542.6 L645.3,542.6 L646.8,542.6 L648.3,542.6 L649.8,542.6 L651.3,542.6 L652.8,542.6 L654.3,542.6 L655.8,542.5 L657.3,542.5 L658.8,542.5 L660.3,542.5 L661.8,542.5 L663.3,542.5 L664.8,542.5 L666.3,542.5 L667.8,542.5 L669.3,542.5 L670.8,542.5 L672.3,542.4 L673.8,542.4 L675.3,542.4 L676.8,542.4 L678.3,542.4 L679.8,542.4 L681.3,542.4 L682.8,542.4 L684.3,542.4 L685.8,542.4 L687.3,542.3 L688.7,542.3 L690.2,542.3 L691.7,542.3 L693.1,542.3 L694.0,542.3" stroke="#fdcf8c"/>
<path d="M145.1,349.7 L145.3,351.2 L145.5,352.7 L145.7,354.2 L145.9,355.6 L146.2,357.1 L146.4,358.6 L146.6,360.1 L146.8,361.6 L147.0,363.1 L147.2,364.6 L147.4,366.0 L147.6,367.5 L147.9,369.0 L148.1,370.5 L148.3,372.0 L148.5,373.5 L148.7,374.9 L148.9,376.4 L149.2,377.9 L149.4,379.4 L149.6,380.9 L149.8,382.4 L150.1,383.8 L150.3,385.3 L150.5,386.8 L150.7,388.3 L151.0,389.8 L151.2,391.3 L151.4,392.7 L151.6,394.2 L151.9,395.7 L152.2,397.2 L152.4,398.6 L152.7,400.1 L153.0,401.6 L153.4,403.1 L153.7,404.5 L154.0,406.0 L154.3,407.4 L154.7,408.9 L155.0,410.4 L155.3,411.8 L155.7,413.3 L156.0,414.7 L156.4,416.2 L156.8,417.7 L157.2,419.1 L157.6,420.5 L158.0,422.0 L158.5,423.4 L159.0,424.8 L159.5,426.2 L160.0,427.6 L160.6,429.0 L161.1,430.4 L161.7,431.8 L162.3,433.2 L162.8,434.6 L163.4,436.0 L164.0,437.3 L164.6,438.7 L165.1,440.1 L165.7,441.5 L166.2,442.9 L166.7,444.3 L167.2,445.7 L167.7,447.2 L168.3,448.6 L168.8,450.0 L169.3,451.4 L169.8,452.8 L170.4,454.2 L171.0,455.6 L171.6,456.9 L172.2,458.3 L172.9,459.6 L173.6,460.9 L174.4,462.2 L175.1,463.5 L175.9,464.8 L176.8,466.0 L177.6,467.3 L178.5,468.5 L179.4,469.7 L180.3,470.9 L181.2,472.1 L182.1,473.2 L183.1,474.4 L184.1,475.5 L185.1,476.6 L186.1,477.7 L187.1,478.9 L188.1,480.0 L189.1,481.1 L190.1,482.2 L191.1,483.3 L192.1,484.4 L193.1,485.6 L194.1,486.7 L195.1,487.8 L196.2,488.8 L197.2,489.9 L198.4,490.9 L199.5,491.8 L200.7,492.8 L201.9,493.7 L203.1,494.6 L204.3,495.5 L205.5,496.4 L206.7,497.3 L207.9,498.1 L209.1,499.0 L210.4,499.8 L211.6,500.7 L212.9,501.5 L214.2,502.3 L215.4,503.0 L216.7,503.8 L218.0,504.5 L219.3,505.3 L220.7,506.0 L222.0,506.7 L223.4,507.3 L224.7,508.0 L226.1,508.6 L227.4,509.2 L228.8,509.8 L230.2,510.4 L231.5,511.0 L232.9,511.6 L234.3,512.2 L235.7,512.8 L237.1,513.3 L238.5,513.9 L239.9,514.4 L241.3,514.9 L242.7,515.4 L244.1,516.0 L245.5,516.5 L246.9,516.9 L248.4,517.4 L249.8,517.9 L251.2,518.4 L252.7,518.8 L254.1,519.2 L255.5,519.7 L257.0,520.1 L258.4,520.5 L259.9,520.8 L261.3,521.2 L262.8,521.6 L264.2,521.9 L265.7,522.2 L267.2,522.5 L268.7,522.8 L270.1,523.1 L271.6,523.3 L273.1,523.6 L274.6,523.8 L276.0,524.0 L277.5,524.3 L279.0,524.5 L280.5,524.7 L282.0,524.9 L283.5,525.2 L284.9,525.4 L286.4,525.6 L287.9,525.8 L289.4,526.0 L290.9,526.2 L292.4,526.5 L293.9,526.7 L295.3,526.9 L296.8,527.1 L298.3,527.3 L299.8,527.5 L301.3,527.7 L302.8,527.9 L304.2,528.1 L305.7,528.3 L307.2,528.5 L308.7,528.7 L310.2,528.9 L311.7,529.1 L313.2,529.3 L314.7,529.5 L316.1,529.7 L317.6,529.9 L319.1,530.1 L320.6,530.3 L322.1,530.5 L323.6,530.6 L325.1,530.8 L326.6,531.0 L328.1,531.2 L329.5,531.4 L331.0,531.5 L332.5,531.7 L334.0,531.9 L335.5,532.0 L337.0,532.2 L338.5,532.3 L340.0,532.5 L341.5,532.6 L343.0,532.8 L344.5,532.9 L346.0,533.0 L347.5,533.1 L349.0,533.2 L350.5,533.3 L351.9,533.4 L353.4,533.4 L354.9,533.5 L356.4,533.6 L357.9,533.6 L359.4,533.6 L360.9,533.7 L362.4,533.7 L363.9,533.8 L365.4,533.8 L366.9,533.9 L368.4,533.9 L369.9,534.0 L371.4,534.1 L372.9,534.2 L374.4,534.2 L375.9,534.3 L377.4,534.4 L378.9,534.5 L380.4,534.6 L381.9,534.7 L383.4,534.8 L384.9,534.8 L386.4,534.9 L387.9,535.0 L389.4,535.0 L390.9,535.1 L392.4,535.2 L393.9,535.2 L395.4,535.3 L396.9,535.3 L398.4,535.4 L399.9,535.4 L401.4,535.4 L402.9,535.5 L404.4,535.5 L405.9,535.6 L407.4,535.6 L408.9,535.6 L410.4,535.7 L411.9,535.7 L413.4,535.8 L414.9,535.8 L416.4,535.8 L417.9,535.9 L419.4,535.9 L420.9,536.0 L422.4,536.0 L423.9,536.0 L425.4,536.1 L426.9,536.1 L428.4,536.1 L429.9,536.2 L431.4,536.2 L432.9,536.2 L434.4,536.3 L435.9,536.3 L437.4,536.3 L438.9,536.4 L440.4,536.4 L441.9,536.4 L443.4,536.5 L444.9,536.5 L446.4,536.5 L447.9,536.6 L449.4,536.6 L450.9,536.6 L452.4,536.7 L453.9,536.7 L455.4,536.7 L456.9,536.7 L458.4,536.8 L459.9,536.8 L461.4,536.8 L462.9,536.8 L464.4,536.8 L465.9,536.9 L467.4,536.9 L468.9,536.9 L470.4,536.9 L471.9,536.9 L473.4,537.0 L474.9,537.0 L476.4,537.0 L477.9,537.0 L479.4,537.0 L480.9,537.0 L482.4,537.0 L483.9,537.0 L485.4,537.0 L486.9,537.0 L488.4,537.0 L489.9,537.0 L491.4,537.0 L492.9,537.0 L494.4,537.0 L495.9,537.0 L497.4,536.9 L498.9,536.9 L500.4,536.9 L501.9,536.9 L503.4,536.8 L504.9,536.8 L506.4,536.8 L507.9,536.8 L509.4,536.7 L510.9,536.7 L512.4,536.7 L513.9,536.6 L515.4,536.6 L516.9,536.6 L518.4,536.5 L519.9,536.5 L521.4,536.5 L522.9,536.5 L524.4,536.4 L525.9,536.4 L527.4,536.4 L528.9,536.3 L530.4,536.3 L531.9,536.3 L533.4,536.3 L534.9,536.2 L536.4,536.2 L537.9,536.2 L539.4,536.2 L540.9,536.1 L542.4,536.1 L543.9,536.1 L545.4,536.1 L546.9,536.0 L548.4,536.0 L549.9,536.0 L551.4,536.0 L552.9,536.0 L554.4,535.9 L555.9,535.9 L557.4,535.9 L558.9,535.9 L560.4,535.9 L561.9,535.9 L563.4,535.8 L564.9,535.8 L566.4,535.8 L567.9,535.8 L569.4,535.8 L570.9,535.7 L572.4,535.7 L573.9,535.7 L575.4,535.7 L576.9,535.7 L578.4,535.7 L579.9,535.6 L581.4,535.6 L582.9,535.6 L584.4,535.6 L585.9,535.6 L587.4,535.5 L588.9,535.5 L590.4,535.5 L591.9,535.5 L593.4,535.5 L594.9,535.5 L596.4,535.4 L597.9,535.4 L599.4,535.4 L600.9,535.4 L602.4,535.4 L603.9,535.4 L605.4,535.3 L606.9,535.3 L608.4,535.3 L609.9,535.3 L611.4,535.3 L612.9,535.2 L614.4,535.2 L615.9,535.2 L617.4,535.2 L618.9,535.2 L620.4,535.2 L621.9,535.1 L623.4,535.1 L624.9,535.1 L626.4,535.1 L627.9,535.1 L629.4,535.1 L630.9,535.0 L632.4,535.0 L633.9,535.0 L635.4,535.0 L636.9,535.0 L638.4,534.9 L639.9,534.9 L641.4,534.9 L642.9,534.9 L644.4,534.9 L645.9,534.9 L647.4,534.8 L648.9,534.8 L650.4,534.8 L651.9,534.8 L653.4,534.8 L654.9,534.8 L656.4,534.7 L657.9,534.7 L659.4,534.7 L660.9,534.7 L662.4,534.7 L663.9,534.7 L665.4,534.6 L666.9,534.6 L668.4,534.6 L669.9,534.6 L671.4,534.6 L672.9,534.5 L674.4,534.5 L675.9,534.5 L677.4,534.5 L678.9,534.5 L680.4,534.5 L681.9,534.4 L683.4,534.4 L684.9,534.4 L686.4,534.4 L687.9,534.4 L689.3,534.4 L690.8,534.3 L692.2,534.3 L693.5,534.3 L694.0,534.3" stroke="#a5d62b"/>
<path d="M145.1,318.2 L145.3,319.7 L145.5,321.2 L145.8,322.6 L146.0,324.1 L146.2,325.6 L146.4,327.1 L146.7,328.6 L146.9,330.1 L147.1,331.5 L147.3,333.0 L147.6,334.5 L147.8,336.0 L148.0,337.5 L148.3,339.0 L148.5,340.4 L148.7,341.9 L148.9,343.4 L149.2,344.9 L149.4,346.4 L149.7,347.9 L149.9,349.3 L150.1,350.8 L150.4,352.3 L150.6,353.8 L150.9,355.3 L151.1,356.7 L151.4,358.2 L151.6,359.7 L151.9,361.2 L152.1,362.6 L152.4,364.1 L152.7,365.6 L152.9,367.1 L153.2,368.6 L153.5,370.0 L153.7,371.5 L154.0,373.0 L154.3,374.4 L154.6,375.9 L154.9,377.4 L155.2,378.9 L155.5,380.3 L155.8,381.8 L156.2,383.3 L156.5,384.7 L156.9,386.2 L157.2,387.6 L157.6,389.1 L158.0,390.5 L158.4,392.0 L158.7,393.4 L159.1,394.9 L159.5,396.3 L159.9,397.8 L160.3,399.2 L160.7,400.7 L161.1,402.1 L161.5,403.6 L161.9,405.0 L162.3,406.5 L162.7,407.9 L163.1,409.4 L163.5,410.8 L163.9,412.2 L164.3,413.7 L164.7,415.1 L165.1,416.6 L165.6,418.0 L166.0,419.4 L166.5,420.8 L167.0,422.3 L167.5,423.7 L168.1,425.1 L168.6,426.5 L169.2,427.8 L169.8,429.2 L170.4,430.6 L171.0,432.0 L171.6,433.3 L172.3,434.7 L172.9,436.0 L173.6,437.4 L174.3,438.7 L175.0,440.0 L175.7,441.4 L176.4,442.7 L177.1,444.0 L177.8,445.3 L178.6,446.6 L179.4,447.9 L180.2,449.1 L181.0,450.4 L181.9,451.6 L182.8,452.8 L183.8,453.9 L184.8,455.0 L185.9,456.1 L186.9,457.1 L188.0,458.2 L189.1,459.2 L190.2,460.2 L191.3,461.2 L192.4,462.2 L193.5,463.2 L194.7,464.2 L195.8,465.2 L197.0,466.1 L198.2,467.1 L199.3,468.0 L200.5,468.9 L201.7,469.8 L202.9,470.7 L204.1,471.6 L205.3,472.5 L206.5,473.4 L207.7,474.3 L209.0,475.1 L210.2,475.9 L211.5,476.7 L212.8,477.5 L214.1,478.3 L215.4,479.0 L216.7,479.7 L218.0,480.4 L219.4,481.1 L220.7,481.7 L222.1,482.4 L223.4,483.0 L224.8,483.6 L226.2,484.2 L227.5,484.9 L228.9,485.5 L230.3,486.1 L231.7,486.7 L233.0,487.3 L234.4,487.9 L235.8,488.5 L237.2,489.1 L238.5,489.7 L239.9,490.3 L241.3,490.9 L242.6,491.5 L244.0,492.1 L245.4,492.7 L246.8,493.3 L248.2,493.8 L249.6,494.4 L251.0,494.9 L252.4,495.4 L253.8,495.9 L255.2,496.3 L256.7,496.8 L258.1,497.2 L259.5,497.6 L261.0,498.1 L262.4,498.5 L263.9,498.9 L265.3,499.3 L266.8,499.7 L268.2,500.1 L269.6,500.5 L271.1,500.9 L272.5,501.3 L274.0,501.7 L275.4,502.0 L276.9,502.4 L278.3,502.8 L279.8,503.2 L281.3,503.6 L282.7,503.9 L284.2,504.3 L285.6,504.7 L287.1,505.0 L288.5,505.4 L290.0,505.8 L291.4,506.1 L292.9,506.5 L294.3,506.8 L295.8,507.2 L297.3,507.5 L298.7,507.9 L300.2,508.2 L301.6,508.5 L303.1,508.9 L304.6,509.2 L306.1,509.4 L307.5,509.7 L309.0,509.9 L310.5,510.1 L312.0,510.3 L313.5,510.5 L315.0,510.7 L316.5,510.9 L317.9,511.1 L319.4,511.3 L320.9,511.6 L322.4,511.8 L323.9,512.1 L325.3,512.3 L326.8,512.6 L328.3,512.8 L329.8,513.1 L331.3,513.3 L332.7,513.6 L334.2,513.8 L335.7,514.1 L337.2,514.3 L338.6,514.6 L340.1,514.8 L341.6,515.1 L343.1,515.3 L344.6,515.6 L346.0,515.8 L347.5,516.1 L349.0,516.3 L350.5,516.6 L352.0,516.8 L353.4,517.0 L354.9,517.2 L356.4,517.5 L357.9,517.7 L359.4,517.9 L360.9,518.1 L362.4,518.3 L363.8,518.5 L365.3,518.7 L366.8,519.0 L368.3,519.2 L369.8,519.4 L371.3,519.6 L372.8,519.8 L374.2,520.0 L375.7,520.1 L377.2,520.3 L378.7,520.5 L380.2,520.7 L381.7,520.9 L383.2,521.0 L384.7,521.2 L386.2,521.3 L387.7,521.5 L389.1,521.7 L390.6,521.8 L392.1,522.0 L393.6,522.1 L395.1,522.2 L396.6,522.4 L398.1,522.5 L399.6,522.7 L401.1,522.8 L402.6,522.9 L404.1,523.1 L405.6,523.2 L407.1,523.3 L408.6,523.5 L410.1,523.6 L411.5,523.8 L413.0,523.9 L414.5,524.0 L416.0,524.2 L417.5,524.3 L419.0,524.4 L420.5,524.6 L422.0,524.7 L423.5,524.8 L425.0,525.0 L426.5,525.1 L428.0,525.2 L429.5,525.3 L431.0,525.5 L432.5,525.6 L434.0,525.7 L435.5,525.8 L436.9,526.0 L438.4,526.1 L439.9,526.2 L441.4,526.3 L442.9,526.5 L444.4,526.6 L445.9,526.7 L447.4,526.8 L448.9,526.9 L450.4,527.0 L451.9,527.2 L453.4,527.3 L454.9,527.4 L456.4,527.5 L457.9,527.6 L459.4,527.7 L460.9,527.8 L462.4,527.9 L463.9,528.0 L465.4,528.1 L466.9,528.2 L468.4,528.3 L469.9,528.4 L471.4,528.5 L472.9,528.6 L474.3,528.7 L475.8,528.8 L477.3,528.9 L478.8,528.9 L480.3,529.0 L481.8,529.1 L483.3,529.2 L484.8,529.2 L486.3,529.3 L487.8,529.4 L489.3,529.4 L490.8,529.5 L492.3,529.6 L493.8,529.6 L495.3,529.7 L496.8,529.7 L498.3,529.8 L499.8,529.8 L501.3,529.9 L502.8,529.9 L504.3,530.0 L505.8,530.0 L507.3,530.1 L508.8,530.1 L510.3,530.1 L511.8,530.2 L513.3,530.2 L514.8,530.2 L516.3,530.3 L517.8,530.3 L519.3,530.4 L520.8,530.4 L522.3,530.4 L523.8,530.4 L525.3,530.5 L526.8,530.5 L528.3,530.5 L529.8,530.6 L531.3,530.6 L532.8,530.6 L534.3,530.6 L535.8,530.7 L537.3,530.7 L538.8,530.7 L540.3,530.7 L541.8,530.7 L543.3,530.8 L544.8,530.8 L546.3,530.8 L547.8,530.8 L549.3,530.9 L550.8,530.9 L552.3,530.9 L553.8,530.9 L555.3,530.9 L556.8,531.0 L558.3,531.0 L559.8,531.0 L561.3,531.0 L562.8,531.0 L564.3,531.1 L565.8,531.1 L567.3,531.1 L568.8,531.1 L570.3,531.1 L571.8,531.1 L573.3,531.1 L574.8,531.2 L576.3,531.2 L577.8,531.2 L579.3,531.2 L580.8,531.2 L582.3,531.2 L583.8,531.2 L585.3,531.2 L586.8,531.2 L588.3,531.2 L589.8,531.2 L591.3,531.2 L592.8,531.2 L594.3,531.2 L595.8,531.2 L597.3,531.2 L598.8,531.2 L600.3,531.1 L601.8,531.1 L603.3,531.1 L604.8,531.1 L606.3,531.1 L607.8,531.1 L609.3,531.1 L610.8,531.1 L612.3,531.1 L613.8,531.0 L615.3,531.0 L616.8,531.0 L618.3,531.0 L619.8,531.0 L621.3,531.0 L622.8,531.0 L624.3,531.0 L625.8,530.9 L627.3,530.9 L628.8,530.9 L630.3,530.9 L631.8,530.9 L633.3,530.9 L634.8,530.9 L636.3,530.8 L637.8,530.8 L639.3,530.8 L640.8,530.8 L642.3,530.8 L643.8,530.7 L645.3,530.7 L646.8,530.7 L648.3,530.7 L649.8,530.7 L651.3,530.6 L652.8,530.6 L654.3,530.6 L655.8,530.6 L657.3,530.5 L658.8,530.5 L660.3,530.5 L661.8,530.5 L663.3,530.5 L664.8,530.4 L666.3,530.4 L667.8,530.4 L669.3,530.4 L670.8,530.3 L672.3,530.3 L673.8,530.3 L675.3,530.3 L676.8,530.3 L678.3,530.2 L679.8,530.2 L681.3,530.2 L682.8,530.2 L684.3,530.1 L685.8,530.1 L687.3,530.1 L688.8,530.1 L690.2,530.1 L691.7,530.0 L693.1,530.0 L694.0,530.0" stroke="#1fa84b"/>
<path d="M145.1,336.1 L145.3,337.6 L145.6,339.1 L145.8,340.5 L146.1,342.0 L146.3,343.5 L146.6,345.0 L146.8,346.5 L147.1,347.9 L147.3,349.4 L147.5,350.9 L147.8,352.4 L148.0,353.9 L148.3,355.3 L148.5,356.8 L148.7,358.3 L149.0,359.8 L149.2,361.3 L149.4,362.8 L149.6,364.2 L149.9,365.7 L150.1,367.2 L150.3,368.7 L150.5,370.2 L150.8,371.7 L151.0,373.1 L151.2,374.6 L151.4,376.1 L151.6,377.6 L151.9,379.1 L152.1,380.6 L152.3,382.0 L152.6,383.5 L152.8,385.0 L153.0,386.5 L153.3,388.0 L153.5,389.4 L153.8,390.9 L154.1,392.4 L154.4,393.8 L154.8,395.3 L155.1,396.7 L155.6,398.2 L156.0,399.6 L156.4,401.1 L156.8,402.5 L157.3,403.9 L157.7,405.4 L158.1,406.8 L158.6,408.3 L159.0,409.7 L159.4,411.1 L159.9,412.6 L160.3,414.0 L160.8,415.4 L161.2,416.8 L161.7,418.3 L162.2,419.7 L162.6,421.1 L163.1,422.5 L163.6,423.9 L164.2,425.3 L164.7,426.7 L165.3,428.1 L165.8,429.5 L166.4,430.9 L167.0,432.3 L167.7,433.6 L168.3,435.0 L169.0,436.3 L169.6,437.7 L170.3,439.0 L171.0,440.4 L171.6,441.7 L172.3,443.0 L173.0,444.4 L173.7,445.7 L174.5,447.0 L175.2,448.3 L175.9,449.6 L176.7,450.9 L177.5,452.2 L178.3,453.4 L179.1,454.7 L180.0,455.9 L180.9,457.1 L181.8,458.3 L182.7,459.5 L183.6,460.7 L184.6,461.8 L185.5,463.0 L186.5,464.1 L187.5,465.3 L188.5,466.4 L189.5,467.5 L190.6,468.5 L191.6,469.6 L192.7,470.7 L193.8,471.7 L194.9,472.7 L196.0,473.7 L197.1,474.7 L198.3,475.6 L199.5,476.6 L200.7,477.5 L201.9,478.4 L203.1,479.3 L204.3,480.1 L205.5,481.0 L206.8,481.8 L208.0,482.6 L209.3,483.4 L210.6,484.2 L211.9,484.9 L213.2,485.6 L214.6,486.3 L215.9,487.0 L217.3,487.6 L218.6,488.2 L220.0,488.8 L221.4,489.4 L222.8,490.0 L224.2,490.5 L225.6,491.1 L227.0,491.6 L228.4,492.1 L229.8,492.7 L231.2,493.2 L232.6,493.7 L234.0,494.2 L235.4,494.7 L236.8,495.2 L238.3,495.7 L239.7,496.2 L241.1,496.6 L242.5,497.1 L244.0,497.6 L245.4,498.0 L246.8,498.4 L248.3,498.8 L249.7,499.3 L251.2,499.6 L252.6,500.0 L254.1,500.4 L255.5,500.8 L257.0,501.2 L258.4,501.5 L259.9,501.9 L261.3,502.2 L262.8,502.6 L264.2,503.0 L265.7,503.3 L267.2,503.7 L268.6,504.0 L270.1,504.3 L271.5,504.7 L273.0,505.0 L274.5,505.4 L275.9,505.7 L277.4,506.0 L278.8,506.4 L280.3,506.7 L281.8,507.1 L283.2,507.4 L284.7,507.7 L286.2,508.0 L287.6,508.4 L289.1,508.7 L290.6,509.0 L292.0,509.3 L293.5,509.6 L295.0,510.0 L296.4,510.3 L297.9,510.6 L299.4,510.9 L300.8,511.1 L302.3,511.4 L303.8,511.7 L305.3,511.9 L306.8,512.1 L308.2,512.3 L309.7,512.5 L311.2,512.6 L312.7,512.8 L314.2,512.9 L315.7,513.1 L317.2,513.2 L318.7,513.4 L320.2,513.5 L321.7,513.7 L323.2,513.9 L324.6,514.0 L326.1,514.2 L327.6,514.4 L329.1,514.6 L330.6,514.8 L332.1,514.9 L333.6,515.1 L335.1,515.3 L336.6,515.5 L338.1,515.6 L339.5,515.8 L341.0,516.0 L342.5,516.1 L344.0,516.3 L345.5,516.5 L347.0,516.6 L348.5,516.8 L350.0,517.0 L351.5,517.1 L353.0,517.3 L354.5,517.4 L355.9,517.6 L357.4,517.7 L358.9,517.9 L360.4,518.0 L361.9,518.2 L363.4,518.3 L364.9,518.5 L366.4,518.6 L367.9,518.7 L369.4,518.9 L370.9,519.0 L372.4,519.1 L373.9,519.3 L375.4,519.4 L376.9,519.5 L378.4,519.6 L379.8,519.7 L381.3,519.9 L382.8,520.0 L384.3,520.1 L385.8,520.2 L387.3,520.3 L388.8,520.4 L390.3,520.5 L391.8,520.6 L393.3,520.7 L394.8,520.8 L396.3,520.9 L397.8,521.0 L399.3,521.2 L400.8,521.3 L402.3,521.4 L403.8,521.5 L405.3,521.6 L406.8,521.7 L408.3,521.8 L409.8,521.9 L411.3,522.0 L412.8,522.1 L414.3,522.2 L415.8,522.3 L417.3,522.4 L418.8,522.5 L420.2,522.6 L421.7,522.7 L423.2,522.8 L424.7,522.9 L426.2,523.0 L427.7,523.1 L429.2,523.2 L430.7,523.3 L432.2,523.4 L433.7,523.5 L435.2,523.6 L436.7,523.7 L438.2,523.8 L439.7,523.9 L441.2,524.0 L442.7,524.1 L444.2,524.2 L445.7,524.3 L447.2,524.4 L448.7,524.5 L450.2,524.6 L451.7,524.7 L453.2,524.7 L454.7,524.8 L456.2,524.9 L457.7,525.0 L459.2,525.1 L460.7,525.2 L462.2,525.3 L463.7,525.4 L465.2,525.4 L466.7,525.5 L468.2,525.6 L469.7,525.7 L471.1,525.8 L472.6,525.8 L474.1,525.9 L475.6,526.0 L477.1,526.1 L478.6,526.1 L480.1,526.2 L481.6,526.3 L483.1,526.3 L484.6,526.4 L486.1,526.5 L487.6,526.5 L489.1,526.6 L490.6,526.7 L492.1,526.7 L493.6,526.8 L495.1,526.8 L496.6,526.9 L498.1,526.9 L499.6,527.0 L501.1,527.0 L502.6,527.1 L504.1,527.1 L505.6,527.2 L507.1,527.2 L508.6,527.3 L510.1,527.3 L511.6,527.4 L513.1,527.4 L514.6,527.5 L516.1,527.5 L517.6,527.5 L519.1,527.6 L520.6,527.6 L522.1,527.7 L523.6,527.7 L525.1,527.7 L526.6,527.8 L528.1,527.8 L529.6,527.8 L531.1,527.9 L532.6,527.9 L534.1,527.9 L535.6,528.0 L537.1,528.0 L538.6,528.0 L540.1,528.1 L541.6,528.1 L543.1,528.1 L544.6,528.2 L546.1,528.2 L547.6,528.2 L549.1,528.3 L550.6,528.3 L552.1,528.3 L553.6,528.4 L555.1,528.4 L556.6,528.4 L558.1,528.5 L559.6,528.5 L561.1,528.5 L562.6,528.6 L564.1,528.6 L565.6,528.6 L567.1,528.6 L568.6,528.7 L570.1,528.7 L571.6,528.7 L573.1,528.8 L574.6,528.8 L576.1,528.8 L577.6,528.8 L579.1,528.9 L580.6,528.9 L582.1,528.9 L583.6,528.9 L585.1,529.0 L586.6,529.0 L588.1,529.0 L589.6,529.1 L591.1,529.1 L592.6,529.1 L594.1,529.1 L595.6,529.2 L597.1,529.2 L598.6,529.2 L600.1,529.2 L601.6,529.3 L603.1,529.3 L604.6,529.3 L606.1,529.3 L607.6,529.4 L609.1,529.4 L610.6,529.4 L612.1,529.4 L613.6,529.5 L615.1,529.5 L616.6,529.5 L618.1,529.5 L619.6,529.5 L621.1,529.6 L622.6,529.6 L624.1,529.6 L625.6,529.6 L627.1,529.7 L628.6,529.7 L630.1,529.7 L631.6,529.7 L633.1,529.8 L634.6,529.8 L636.1,529.8 L637.6,529.8 L639.1,529.9 L640.6,529.9 L642.1,529.9 L643.6,529.9 L645.1,529.9 L646.6,530.0 L648.1,530.0 L649.6,530.0 L651.1,530.0 L652.6,530.1 L654.1,530.1 L655.6,530.1 L657.1,530.1 L658.6,530.2 L660.1,530.2 L661.6,530.2 L663.1,530.2 L664.6,530.2 L666.1,530.3 L667.6,530.3 L669.1,530.3 L670.6,530.3 L672.1,530.4 L673.6,530.4 L675.1,530.4 L676.6,530.4 L678.1,530.5 L679.6,530.5 L681.1,530.5 L682.6,530.5 L684.1,530.5 L685.6,530.6 L687.1,530.6 L688.6,530.6 L690.1,530.6 L691.6,530.7 L693.0,530.7 L694.0,530.7" stroke="#5bbedb"/>
<path d="M145.1,310.6 L145.3,312.1 L145.6,313.6 L145.8,315.0 L146.1,316.5 L146.3,318.0 L146.6,319.5 L146.8,321.0 L147.1,322.4 L147.3,323.9 L147.6,325.4 L147.8,326.9 L148.1,328.4 L148.3,329.8 L148.6,331.3 L148.8,332.8 L149.0,334.3 L149.3,335.8 L149.5,337.2 L149.8,338.7 L150.0,340.2 L150.3,341.7 L150.5,343.2 L150.8,344.6 L151.0,346.1 L151.3,347.6 L151.5,349.1 L151.7,350.6 L152.0,352.0 L152.2,353.5 L152.5,355.0 L152.7,356.5 L153.0,358.0 L153.2,359.4 L153.5,360.9 L153.7,362.4 L154.0,363.9 L154.2,365.3 L154.5,366.8 L154.7,368.3 L155.0,369.8 L155.2,371.3 L155.5,372.7 L155.7,374.2 L156.0,375.7 L156.3,377.2 L156.5,378.6 L156.8,380.1 L157.1,381.6 L157.4,383.1 L157.6,384.5 L157.9,386.0 L158.2,387.5 L158.5,389.0 L158.8,390.4 L159.1,391.9 L159.5,393.4 L159.8,394.8 L160.2,396.3 L160.6,397.7 L161.0,399.2 L161.4,400.6 L161.8,402.0 L162.3,403.5 L162.7,404.9 L163.1,406.3 L163.6,407.8 L164.1,409.2 L164.5,410.6 L165.0,412.0 L165.5,413.5 L165.9,414.9 L166.4,416.3 L166.9,417.7 L167.4,419.1 L167.9,420.5 L168.4,422.0 L169.0,423.4 L169.5,424.8 L170.1,426.2 L170.6,427.5 L171.2,428.9 L171.8,430.3 L172.4,431.7 L173.1,433.0 L173.8,434.3 L174.5,435.7 L175.2,437.0 L176.0,438.3 L176.8,439.5 L177.6,440.8 L178.4,442.1 L179.2,443.3 L180.0,444.6 L180.8,445.9 L181.6,447.1 L182.4,448.4 L183.2,449.7 L184.0,450.9 L184.8,452.2 L185.6,453.5 L186.4,454.7 L187.2,456.0 L188.1,457.2 L188.9,458.5 L189.8,459.7 L190.7,460.9 L191.6,462.1 L192.5,463.3 L193.4,464.5 L194.3,465.7 L195.3,466.8 L196.3,468.0 L197.3,469.1 L198.3,470.2 L199.3,471.3 L200.4,472.3 L201.4,473.4 L202.5,474.4 L203.6,475.4 L204.7,476.4 L205.9,477.4 L207.0,478.4 L208.2,479.3 L209.4,480.2 L210.6,481.1 L211.9,481.9 L213.1,482.7 L214.4,483.4 L215.8,484.1 L217.1,484.7 L218.5,485.3 L219.9,485.9 L221.3,486.4 L222.7,487.0 L224.1,487.5 L225.5,487.9 L226.9,488.4 L228.4,488.9 L229.8,489.3 L231.2,489.8 L232.6,490.3 L234.1,490.8 L235.5,491.3 L236.9,491.7 L238.3,492.2 L239.7,492.8 L241.1,493.3 L242.5,493.8 L244.0,494.3 L245.4,494.8 L246.8,495.2 L248.2,495.7 L249.7,496.2 L251.1,496.6 L252.5,497.0 L254.0,497.4 L255.4,497.8 L256.9,498.2 L258.3,498.6 L259.8,499.0 L261.2,499.4 L262.7,499.7 L264.1,500.1 L265.6,500.5 L267.0,500.9 L268.5,501.2 L269.9,501.6 L271.4,501.9 L272.8,502.3 L274.3,502.7 L275.8,503.0 L277.2,503.4 L278.7,503.7 L280.1,504.1 L281.6,504.4 L283.1,504.7 L284.5,505.1 L286.0,505.4 L287.4,505.8 L288.9,506.1 L290.4,506.4 L291.8,506.8 L293.3,507.1 L294.8,507.4 L296.2,507.7 L297.7,508.0 L299.2,508.3 L300.6,508.6 L302.1,508.9 L303.6,509.1 L305.1,509.3 L306.6,509.5 L308.1,509.7 L309.5,509.8 L311.0,509.9 L312.5,510.0 L314.0,510.1 L315.5,510.2 L317.0,510.3 L318.5,510.5 L320.0,510.6 L321.5,510.8 L323.0,511.0 L324.5,511.2 L326.0,511.3 L327.5,511.5 L328.9,511.7 L330.4,511.9 L331.9,512.1 L333.4,512.3 L334.9,512.5 L336.4,512.7 L337.9,512.9 L339.4,513.1 L340.8,513.3 L342.3,513.4 L343.8,513.6 L345.3,513.8 L346.8,514.0 L348.3,514.2 L349.8,514.4 L351.3,514.5 L352.8,514.7 L354.2,514.9 L355.7,515.0 L357.2,515.2 L358.7,515.4 L360.2,515.5 L361.7,515.7 L363.2,515.8 L364.7,516.0 L366.2,516.1 L367.7,516.2 L369.2,516.4 L370.7,516.5 L372.2,516.6 L373.7,516.8 L375.1,516.9 L376.6,517.0 L378.1,517.1 L379.6,517.2 L381.1,517.4 L382.6,517.5 L384.1,517.6 L385.6,517.7 L387.1,517.8 L388.6,517.8 L390.1,517.9 L391.6,518.0 L393.1,518.1 L394.6,518.2 L396.1,518.3 L397.6,518.4 L399.1,518.4 L400.6,518.5 L402.1,518.6 L403.6,518.7 L405.1,518.8 L406.6,518.8 L408.1,518.9 L409.6,519.0 L411.1,519.1 L412.6,519.1 L414.1,519.2 L415.6,519.3 L417.1,519.3 L418.6,519.4 L420.1,519.5 L421.6,519.5 L423.1,519.6 L424.6,519.7 L426.1,519.7 L427.6,519.8 L429.1,519.9 L430.6,519.9 L432.1,520.0 L433.6,520.0 L435.1,520.1 L436.6,520.2 L438.1,520.2 L439.6,520.3 L441.1,520.4 L442.6,520.4 L444.1,520.5 L445.6,520.5 L447.0,520.6 L448.5,520.7 L450.0,520.7 L451.5,520.8 L453.0,520.8 L454.5,520.9 L456.0,521.0 L457.5,521.0 L459.0,521.1 L460.5,521.1 L462.0,521.2 L463.5,521.3 L465.0,521.3 L466.5,521.4 L468.0,521.4 L469.5,521.5 L471.0,521.6 L472.5,521.6 L474.0,521.7 L475.5,521.7 L477.0,521.8 L478.5,521.8 L480.0,521.9 L481.5,522.0 L483.0,522.0 L484.5,522.1 L486.0,522.1 L487.5,522.2 L489.0,522.3 L490.5,522.3 L492.0,522.4 L493.5,522.4 L495.0,522.5 L496.5,522.5 L498.0,522.6 L499.5,522.7 L501.0,522.7 L502.5,522.8 L504.0,522.8 L505.5,522.9 L507.0,522.9 L508.5,523.0 L510.0,523.1 L511.5,523.1 L513.0,523.2 L514.5,523.2 L516.0,523.3 L517.5,523.3 L519.0,523.4 L520.5,523.4 L522.0,523.5 L523.5,523.5 L525.0,523.6 L526.5,523.6 L528.0,523.7 L529.5,523.7 L531.0,523.8 L532.5,523.8 L534.0,523.9 L535.5,523.9 L537.0,524.0 L538.5,524.0 L540.0,524.0 L541.5,524.1 L543.0,524.1 L544.5,524.2 L546.0,524.2 L547.5,524.2 L549.0,524.3 L550.5,524.3 L552.0,524.3 L553.5,524.4 L555.0,524.4 L556.5,524.4 L558.0,524.4 L559.5,524.5 L561.0,524.5 L562.5,524.5 L564.0,524.5 L565.5,524.6 L567.0,524.6 L568.5,524.6 L570.0,524.6 L571.5,524.6 L573.0,524.6 L574.5,524.7 L576.0,524.7 L577.5,524.7 L579.0,524.7 L580.5,524.7 L582.0,524.7 L583.5,524.7 L585.0,524.7 L586.5,524.7 L588.0,524.7 L589.5,524.8 L591.0,524.8 L592.5,524.8 L594.0,524.8 L595.5,524.8 L597.0,524.8 L598.5,524.8 L600.0,524.8 L601.5,524.8 L603.0,524.8 L604.5,524.8 L606.0,524.9 L607.5,524.9 L609.0,524.9 L610.5,524.9 L612.0,524.9 L613.5,524.9 L615.0,524.9 L616.5,525.0 L618.0,525.0 L619.5,525.0 L621.0,525.0 L622.5,525.0 L624.0,525.1 L625.5,525.1 L627.0,525.1 L628.5,525.1 L630.0,525.1 L631.5,525.2 L633.0,525.2 L634.5,525.2 L636.0,525.2 L637.5,525.3 L639.0,525.3 L640.5,525.3 L642.0,525.3 L643.5,525.3 L645.0,525.4 L646.5,525.4 L648.0,525.4 L649.5,525.4 L651.0,525.5 L652.5,525.5 L654.0,525.5 L655.5,525.5 L657.0,525.6 L658.5,525.6 L660.0,525.6 L661.5,525.6 L663.0,525.7 L664.5,525.7 L666.0,525.7 L667.5,525.7 L669.0,525.8 L670.5,525.8 L672.0,525.8 L673.5,525.8 L675.0,525.9 L676.5,525.9 L678.0,525.9 L679.5,526.0 L681.0,526.0 L682.5,526.0 L684.0,526.0 L685.5,526.1 L687.0,526.1 L688.4,526.1 L689.9,526.1 L691.3,526.2 L692.7,526.2 L694.0,526.2" stroke="#0b7fd6"/>
<path d="M145.1,208.5 L145.2,210.0 L145.3,211.5 L145.5,213.0 L145.6,214.5 L145.7,216.0 L145.8,217.5 L145.9,219.0 L146.1,220.5 L146.2,222.0 L146.3,223.5 L146.4,224.9 L146.5,226.4 L146.7,227.9 L146.8,229.4 L146.9,230.9 L147.0,232.4 L147.1,233.9 L147.3,235.4 L147.4,236.9 L147.5,238.4 L147.6,239.9 L147.8,241.4 L147.9,242.9 L148.0,244.4 L148.1,245.9 L148.2,247.4 L148.4,248.9 L148.5,250.4 L148.6,251.9 L148.7,253.4 L148.8,254.8 L149.0,256.3 L149.1,257.8 L149.2,259.3 L149.3,260.8 L149.4,262.3 L149.5,263.8 L149.6,265.3 L149.7,266.8 L149.9,268.3 L150.0,269.8 L150.1,271.3 L150.2,272.8 L150.4,274.3 L150.5,275.8 L150.7,277.3 L150.9,278.8 L151.0,280.2 L151.2,281.7 L151.4,283.2 L151.6,284.7 L151.8,286.2 L152.0,287.7 L152.2,289.2 L152.4,290.7 L152.6,292.1 L152.8,293.6 L153.0,295.1 L153.2,296.6 L153.5,298.1 L153.7,299.6 L153.9,301.1 L154.1,302.5 L154.3,304.0 L154.5,305.5 L154.7,307.0 L155.0,308.5 L155.2,310.0 L155.4,311.4 L155.6,312.9 L155.8,314.4 L156.0,315.9 L156.3,317.4 L156.5,318.9 L156.7,320.4 L156.9,321.8 L157.1,323.3 L157.3,324.8 L157.5,326.3 L157.8,327.8 L158.0,329.3 L158.2,330.7 L158.4,332.2 L158.6,333.7 L158.8,335.2 L159.0,336.7 L159.3,338.2 L159.5,339.7 L159.7,341.1 L159.9,342.6 L160.1,344.1 L160.4,345.6 L160.6,347.1 L160.8,348.6 L161.0,350.0 L161.3,351.5 L161.5,353.0 L161.8,354.5 L162.0,356.0 L162.3,357.4 L162.5,358.9 L162.8,360.4 L163.1,361.9 L163.3,363.3 L163.6,364.8 L163.9,366.3 L164.2,367.8 L164.5,369.2 L164.8,370.7 L165.1,372.2 L165.4,373.6 L165.7,375.1 L166.0,376.6 L166.3,378.0 L166.7,379.5 L167.0,381.0 L167.3,382.4 L167.6,383.9 L167.9,385.4 L168.2,386.8 L168.5,388.3 L168.8,389.8 L169.1,391.2 L169.4,392.7 L169.8,394.2 L170.2,395.6 L170.6,397.1 L171.0,398.5 L171.4,399.9 L171.9,401.4 L172.4,402.8 L172.9,404.2 L173.4,405.6 L174.0,407.0 L174.5,408.4 L175.1,409.8 L175.7,411.2 L176.2,412.5 L176.8,413.9 L177.4,415.3 L177.9,416.7 L178.5,418.1 L179.1,419.5 L179.6,420.9 L180.1,422.3 L180.7,423.7 L181.2,425.1 L181.7,426.5 L182.2,427.9 L182.7,429.3 L183.2,430.7 L183.7,432.2 L184.2,433.6 L184.7,435.0 L185.2,436.4 L185.7,437.8 L186.2,439.2 L186.7,440.6 L187.2,442.0 L187.8,443.5 L188.3,444.9 L188.8,446.3 L189.4,447.7 L189.9,449.1 L190.5,450.4 L191.1,451.8 L191.7,453.2 L192.3,454.6 L192.9,455.9 L193.6,457.3 L194.3,458.6 L195.0,459.9 L195.8,461.2 L196.6,462.5 L197.4,463.7 L198.2,465.0 L199.0,466.3 L199.8,467.5 L200.7,468.7 L201.5,470.0 L202.4,471.2 L203.2,472.4 L204.1,473.6 L205.0,474.8 L206.0,476.0 L206.9,477.2 L207.8,478.4 L208.8,479.5 L209.8,480.7 L210.8,481.8 L211.8,482.9 L212.8,484.0 L213.9,485.0 L215.0,486.1 L216.1,487.1 L217.2,488.1 L218.3,489.1 L219.4,490.1 L220.5,491.1 L221.7,492.1 L222.8,493.0 L224.0,494.0 L225.1,494.9 L226.3,495.9 L227.5,496.8 L228.7,497.6 L229.9,498.5 L231.2,499.3 L232.4,500.2 L233.7,501.0 L234.9,501.8 L236.2,502.6 L237.5,503.4 L238.8,504.2 L240.1,504.9 L241.4,505.6 L242.7,506.4 L244.0,507.1 L245.4,507.7 L246.7,508.4 L248.1,509.0 L249.5,509.6 L250.9,510.1 L252.3,510.7 L253.7,511.2 L255.1,511.7 L256.5,512.2 L257.9,512.7 L259.3,513.1 L260.8,513.6 L262.2,514.0 L263.6,514.4 L265.1,514.9 L266.5,515.3 L268.0,515.7 L269.4,516.1 L270.9,516.5 L272.3,516.8 L273.8,517.2 L275.2,517.6 L276.7,518.0 L278.1,518.3 L279.6,518.6 L281.1,518.9 L282.5,519.2 L284.0,519.5 L285.5,519.8 L287.0,520.1 L288.4,520.4 L289.9,520.6 L291.4,520.9 L292.9,521.1 L294.3,521.4 L295.8,521.6 L297.3,521.9 L298.8,522.1 L300.3,522.4 L301.7,522.6 L303.2,522.9 L304.7,523.1 L306.2,523.4 L307.7,523.6 L309.1,523.9 L310.6,524.1 L312.1,524.4 L313.6,524.6 L315.0,524.9 L316.5,525.1 L318.0,525.4 L319.5,525.6 L321.0,525.8 L322.5,526.1 L323.9,526.3 L325.4,526.5 L326.9,526.8 L328.4,527.0 L329.9,527.2 L331.4,527.4 L332.8,527.6 L334.3,527.8 L335.8,528.0 L337.3,528.2 L338.8,528.3 L340.3,528.5 L341.8,528.6 L343.3,528.8 L344.8,528.9 L346.3,529.0 L347.8,529.1 L349.3,529.2 L350.8,529.2 L352.3,529.3 L353.8,529.3 L355.3,529.3 L356.8,529.4 L358.3,529.4 L359.8,529.4 L361.3,529.4 L362.8,529.4 L364.3,529.4 L365.8,529.4 L367.3,529.5 L368.8,529.5 L370.3,529.5 L371.8,529.6 L373.3,529.6 L374.8,529.7 L376.2,529.7 L377.7,529.7 L379.2,529.8 L380.7,529.8 L382.2,529.9 L383.7,529.9 L385.2,530.0 L386.7,530.0 L388.2,530.1 L389.7,530.1 L391.2,530.2 L392.7,530.2 L394.2,530.2 L395.7,530.3 L397.2,530.3 L398.7,530.4 L400.2,530.4 L401.7,530.5 L403.2,530.5 L404.7,530.5 L406.2,530.6 L407.7,530.6 L409.2,530.7 L410.7,530.7 L412.2,530.8 L413.7,530.8 L415.2,530.9 L416.7,530.9 L418.2,531.0 L419.7,531.0 L421.2,531.1 L422.7,531.1 L424.2,531.2 L425.7,531.2 L427.2,531.3 L428.7,531.3 L430.2,531.4 L431.7,531.4 L433.2,531.4 L434.7,531.5 L436.2,531.5 L437.7,531.6 L439.2,531.6 L440.7,531.7 L442.2,531.7 L443.7,531.8 L445.2,531.8 L446.7,531.9 L448.2,531.9 L449.7,531.9 L451.2,532.0 L452.7,532.0 L454.2,532.1 L455.7,532.1 L457.2,532.1 L458.7,532.2 L460.2,532.2 L461.7,532.2 L463.2,532.3 L464.7,532.3 L466.2,532.4 L467.7,532.4 L469.2,532.4 L470.7,532.4 L472.2,532.5 L473.7,532.5 L475.2,532.5 L476.7,532.5 L478.2,532.6 L479.7,532.6 L481.2,532.6 L482.7,532.6 L484.2,532.6 L485.7,532.7 L487.2,532.7 L488.7,532.7 L490.2,532.7 L491.7,532.7 L493.2,532.7 L494.7,532.7 L496.2,532.7 L497.7,532.7 L499.2,532.7 L500.7,532.7 L502.2,532.7 L503.7,532.7 L505.2,532.7 L506.7,532.7 L508.2,532.7 L509.7,532.7 L511.2,532.7 L512.7,532.7 L514.2,532.7 L515.7,532.7 L517.2,532.7 L518.7,532.7 L520.2,532.7 L521.7,532.7 L523.2,532.6 L524.7,532.6 L526.2,532.6 L527.7,532.6 L529.2,532.6 L530.7,532.6 L532.2,532.6 L533.7,532.6 L535.2,532.6 L536.7,532.6 L538.2,532.6 L539.7,532.5 L541.2,532.5 L542.7,532.5 L544.2,532.5 L545.7,532.5 L547.2,532.5 L548.7,532.5 L550.2,532.5 L551.7,532.5 L553.2,532.5 L554.7,532.5 L556.2,532.5 L557.7,532.5 L559.2,532.5 L560.7,532.5 L562.2,532.5 L563.7,532.5 L565.2,532.5 L566.7,532.5 L568.2,532.5 L569.7,532.5 L571.2,532.5 L572.7,532.5 L574.2,532.5 L575.7,532.5 L577.2,532.5 L578.7,532.5 L580.2,532.5 L581.7,532.5 L583.2,532.5 L584.7,532.5 L586.2,532.5 L587.7,532.5 L589.2,532.5 L590.7,532.5 L592.2,532.5 L593.7,532.5 L595.2,532.5 L596.7,532.5 L598.2,532.5 L599.7,532.5 L601.2,532.5 L602.7,532.5 L604.2,532.5 L605.7,532.5 L607.2,532.5 L608.7,532.5 L610.2,532.5 L611.7,532.5 L613.2,532.5 L614.7,532.5 L616.2,532.5 L617.7,532.5 L619.2,532.5 L620.7,532.5 L622.2,532.5 L623.7,532.5 L625.2,532.5 L626.7,532.5 L628.2,532.5 L629.7,532.5 L631.2,532.5 L632.7,532.5 L634.2,532.5 L635.7,532.5 L637.2,532.5 L638.7,532.5 L640.2,532.6 L641.7,532.6 L643.2,532.6 L644.7,532.6 L646.2,532.6 L647.7,532.6 L649.2,532.6 L650.7,532.6 L652.2,532.6 L653.7,532.6 L655.2,532.6 L656.7,532.6 L658.2,532.6 L659.7,532.6 L661.2,532.6 L662.7,532.6 L664.2,532.6 L665.7,532.6 L667.2,532.6 L668.7,532.6 L670.2,532.6 L671.7,532.6 L673.2,532.6 L674.7,532.6 L676.2,532.6 L677.7,532.6 L679.2,532.6 L680.7,532.6 L682.2,532.6 L683.7,532.6 L685.2,532.6 L686.7,532.6 L688.2,532.6 L689.7,532.6 L691.1,532.6 L692.6,532.6 L694.0,532.6" stroke="#3c3dc0"/>
<path d="M145.1,151.8 L145.2,153.3 L145.4,154.8 L145.5,156.3 L145.7,157.8 L145.8,159.3 L146.0,160.8 L146.1,162.2 L146.3,163.7 L146.4,165.2 L146.6,166.7 L146.7,168.2 L146.9,169.7 L147.0,171.2 L147.2,172.7 L147.3,174.2 L147.5,175.7 L147.6,177.2 L147.8,178.7 L147.9,180.2 L148.1,181.7 L148.2,183.1 L148.4,184.6 L148.5,186.1 L148.6,187.6 L148.8,189.1 L148.9,190.6 L149.1,192.1 L149.2,193.6 L149.4,195.1 L149.5,196.6 L149.7,198.1 L149.9,199.6 L150.0,201.1 L150.2,202.5 L150.3,204.0 L150.5,205.5 L150.6,207.0 L150.8,208.5 L151.0,210.0 L151.1,211.5 L151.3,213.0 L151.4,214.5 L151.6,216.0 L151.8,217.5 L151.9,219.0 L152.1,220.4 L152.3,221.9 L152.5,223.4 L152.6,224.9 L152.8,226.4 L153.0,227.9 L153.2,229.4 L153.4,230.9 L153.6,232.4 L153.8,233.8 L154.0,235.3 L154.2,236.8 L154.4,238.3 L154.6,239.8 L154.8,241.3 L155.1,242.7 L155.3,244.2 L155.5,245.7 L155.7,247.2 L155.9,248.7 L156.1,250.2 L156.3,251.7 L156.5,253.1 L156.7,254.6 L156.9,256.1 L157.1,257.6 L157.3,259.1 L157.4,260.6 L157.6,262.1 L157.7,263.6 L157.9,265.1 L158.0,266.6 L158.1,268.1 L158.3,269.5 L158.4,271.0 L158.6,272.5 L158.7,274.0 L158.9,275.5 L159.1,277.0 L159.3,278.5 L159.6,280.0 L159.8,281.4 L160.2,282.9 L160.5,284.4 L160.9,285.8 L161.3,287.3 L161.7,288.7 L162.1,290.1 L162.5,291.6 L162.9,293.0 L163.2,294.5 L163.5,296.0 L163.8,297.4 L164.1,298.9 L164.3,300.4 L164.5,301.9 L164.7,303.4 L164.9,304.8 L165.1,306.3 L165.3,307.8 L165.5,309.3 L165.6,310.8 L165.8,312.3 L166.0,313.8 L166.2,315.3 L166.4,316.8 L166.6,318.2 L166.8,319.7 L167.0,321.2 L167.3,322.7 L167.6,324.2 L167.8,325.6 L168.2,327.1 L168.5,328.6 L168.9,330.0 L169.2,331.5 L169.6,332.9 L170.0,334.4 L170.4,335.8 L170.8,337.3 L171.2,338.7 L171.6,340.2 L171.9,341.6 L172.3,343.1 L172.7,344.5 L173.1,346.0 L173.5,347.4 L173.8,348.9 L174.2,350.3 L174.6,351.8 L175.0,353.2 L175.4,354.7 L175.8,356.1 L176.2,357.6 L176.5,359.0 L176.9,360.5 L177.3,361.9 L177.7,363.4 L178.1,364.8 L178.5,366.2 L178.9,367.7 L179.3,369.1 L179.7,370.6 L180.1,372.0 L180.5,373.5 L180.9,374.9 L181.3,376.4 L181.7,377.8 L182.2,379.2 L182.6,380.7 L183.1,382.1 L183.6,383.5 L184.1,384.9 L184.7,386.3 L185.3,387.7 L185.9,389.0 L186.6,390.4 L187.3,391.7 L188.0,393.0 L188.7,394.4 L189.3,395.7 L190.0,397.0 L190.7,398.4 L191.3,399.7 L191.9,401.1 L192.5,402.5 L193.1,403.9 L193.7,405.2 L194.3,406.6 L194.8,408.0 L195.4,409.4 L196.0,410.8 L196.6,412.2 L197.1,413.5 L197.7,414.9 L198.3,416.3 L199.0,417.7 L199.6,419.0 L200.2,420.4 L200.9,421.7 L201.6,423.1 L202.3,424.4 L203.0,425.7 L203.7,427.0 L204.4,428.3 L205.2,429.7 L205.9,431.0 L206.7,432.3 L207.4,433.5 L208.2,434.8 L209.0,436.1 L209.8,437.4 L210.6,438.7 L211.4,439.9 L212.2,441.2 L213.0,442.4 L213.9,443.7 L214.7,444.9 L215.6,446.1 L216.5,447.3 L217.4,448.5 L218.3,449.7 L219.2,450.9 L220.1,452.1 L221.1,453.2 L222.0,454.4 L223.0,455.5 L224.0,456.6 L225.0,457.7 L226.1,458.8 L227.1,459.9 L228.1,461.0 L229.2,462.1 L230.2,463.1 L231.3,464.2 L232.4,465.2 L233.5,466.3 L234.6,467.3 L235.7,468.3 L236.8,469.3 L237.9,470.3 L239.0,471.3 L240.1,472.3 L241.3,473.3 L242.4,474.3 L243.5,475.3 L244.7,476.2 L245.8,477.2 L247.0,478.1 L248.2,479.0 L249.4,479.9 L250.6,480.8 L251.8,481.7 L253.1,482.6 L254.3,483.4 L255.5,484.3 L256.8,485.1 L258.0,485.9 L259.3,486.7 L260.5,487.6 L261.8,488.4 L263.1,489.2 L264.4,489.9 L265.7,490.7 L266.9,491.5 L268.3,492.2 L269.6,492.9 L270.9,493.6 L272.2,494.3 L273.5,495.0 L274.9,495.7 L276.2,496.4 L277.5,497.1 L278.9,497.8 L280.2,498.5 L281.5,499.2 L282.9,499.9 L284.2,500.6 L285.5,501.3 L286.8,502.0 L288.2,502.6 L289.5,503.3 L290.9,504.0 L292.2,504.6 L293.6,505.3 L294.9,505.9 L296.3,506.5 L297.7,507.0 L299.1,507.6 L300.5,508.1 L301.9,508.7 L303.3,509.2 L304.7,509.7 L306.1,510.2 L307.6,510.7 L309.0,511.1 L310.4,511.6 L311.8,512.1 L313.3,512.5 L314.7,513.0 L316.1,513.4 L317.5,513.9 L319.0,514.3 L320.4,514.8 L321.9,515.2 L323.3,515.6 L324.7,516.0 L326.2,516.4 L327.6,516.9 L329.1,517.3 L330.5,517.6 L332.0,518.0 L333.4,518.4 L334.9,518.8 L336.3,519.1 L337.8,519.5 L339.2,519.8 L340.7,520.1 L342.2,520.4 L343.7,520.7 L345.1,520.9 L346.6,521.2 L348.1,521.4 L349.6,521.6 L351.1,521.8 L352.6,522.0 L354.1,522.1 L355.5,522.3 L357.0,522.4 L358.5,522.5 L360.0,522.7 L361.5,522.8 L363.0,522.9 L364.5,523.0 L366.0,523.1 L367.5,523.3 L369.0,523.4 L370.5,523.6 L372.0,523.7 L373.5,523.8 L375.0,524.0 L376.5,524.1 L378.0,524.2 L379.5,524.3 L380.9,524.5 L382.4,524.6 L383.9,524.7 L385.4,524.8 L386.9,525.0 L388.4,525.1 L389.9,525.2 L391.4,525.4 L392.9,525.5 L394.4,525.6 L395.9,525.8 L397.4,525.9 L398.9,526.1 L400.4,526.2 L401.9,526.4 L403.4,526.6 L404.8,526.7 L406.3,526.9 L407.8,527.0 L409.3,527.2 L410.8,527.4 L412.3,527.5 L413.8,527.7 L415.3,527.9 L416.8,528.1 L418.3,528.2 L419.7,528.4 L421.2,528.6 L422.7,528.7 L424.2,528.9 L425.7,529.1 L427.2,529.3 L428.7,529.4 L430.2,529.6 L431.7,529.8 L433.2,529.9 L434.6,530.1 L436.1,530.3 L437.6,530.5 L439.1,530.6 L440.6,530.8 L442.1,531.0 L443.6,531.1 L445.1,531.3 L446.6,531.5 L448.1,531.6 L449.6,531.8 L451.0,531.9 L452.5,532.1 L454.0,532.3 L455.5,532.4 L457.0,532.6 L458.5,532.7 L460.0,532.9 L461.5,533.0 L463.0,533.2 L464.5,533.3 L466.0,533.5 L467.5,533.6 L469.0,533.7 L470.5,533.9 L471.9,534.0 L473.4,534.1 L474.9,534.3 L476.4,534.4 L477.9,534.5 L479.4,534.6 L480.9,534.8 L482.4,534.9 L483.9,535.0 L485.4,535.1 L486.9,535.2 L488.4,535.3 L489.9,535.4 L491.4,535.5 L492.9,535.6 L494.4,535.7 L495.9,535.8 L497.4,535.9 L498.9,536.0 L500.4,536.0 L501.9,536.1 L503.4,536.2 L504.9,536.3 L506.4,536.4 L507.9,536.5 L509.4,536.5 L510.9,536.6 L512.4,536.7 L513.9,536.8 L515.4,536.8 L516.8,536.9 L518.3,537.0 L519.8,537.0 L521.3,537.1 L522.8,537.2 L524.3,537.2 L525.8,537.3 L527.3,537.4 L528.8,537.4 L530.3,537.5 L531.8,537.5 L533.3,537.6 L534.8,537.7 L536.3,537.7 L537.8,537.8 L539.3,537.8 L540.8,537.9 L542.3,537.9 L543.8,538.0 L545.3,538.1 L546.8,538.1 L548.3,538.2 L549.8,538.2 L551.3,538.3 L552.8,538.3 L554.3,538.4 L555.8,538.4 L557.3,538.5 L558.8,538.6 L560.3,538.6 L561.8,538.7 L563.3,538.7 L564.8,538.8 L566.3,538.8 L567.8,538.9 L569.3,538.9 L570.8,539.0 L572.3,539.0 L573.8,539.1 L575.3,539.1 L576.8,539.2 L578.3,539.2 L579.8,539.2 L581.3,539.3 L582.8,539.3 L584.3,539.4 L585.8,539.4 L587.3,539.4 L588.8,539.5 L590.3,539.5 L591.8,539.5 L593.3,539.6 L594.8,539.6 L596.3,539.6 L597.8,539.6 L599.3,539.7 L600.8,539.7 L602.3,539.7 L603.8,539.8 L605.3,539.8 L606.8,539.8 L608.3,539.8 L609.8,539.8 L611.3,539.9 L612.8,539.9 L614.3,539.9 L615.8,539.9 L617.3,540.0 L618.8,540.0 L620.3,540.0 L621.8,540.0 L623.3,540.0 L624.8,540.1 L626.3,540.1 L627.8,540.1 L629.3,540.1 L630.8,540.1 L632.3,540.2 L633.8,540.2 L635.3,540.2 L636.8,540.2 L638.3,540.2 L639.8,540.2 L641.3,540.2 L642.8,540.3 L644.3,540.3 L645.8,540.3 L647.3,540.3 L648.8,540.3 L650.3,540.3 L651.8,540.3 L653.3,540.3 L654.8,540.3 L656.3,540.4 L657.8,540.4 L659.3,540.4 L660.8,540.4 L662.3,540.4 L663.8,540.4 L665.3,540.4 L666.8,540.4 L668.3,540.4 L669.8,540.4 L671.3,540.5 L672.8,540.5 L674.3,540.5 L675.8,540.5 L677.3,540.5 L678.8,540.5 L680.3,540.5 L681.8,540.5 L683.3,540.5 L684.8,540.5 L686.3,540.5 L687.8,540.6 L689.3,540.6 L690.7,540.6 L692.1,540.6 L693.5,540.6 L694.0,540.6" stroke="#9a3e9e"/>
<path d="M145.1,59.7 L145.3,61.2 L145.5,62.7 L145.7,64.2 L145.9,65.6 L146.1,67.1 L146.3,68.6 L146.5,70.1 L146.7,71.6 L146.9,73.1 L147.1,74.6 L147.4,76.0 L147.6,77.5 L147.8,79.0 L148.0,80.5 L148.2,82.0 L148.4,83.5 L148.6,85.0 L148.8,86.4 L149.0,87.9 L149.2,89.4 L149.4,90.9 L149.6,92.4 L149.8,93.9 L150.1,95.4 L150.3,96.8 L150.5,98.3 L150.7,99.8 L151.0,101.3 L151.2,102.8 L151.4,104.3 L151.7,105.7 L151.9,107.2 L152.1,108.7 L152.4,110.2 L152.6,111.7 L152.8,113.1 L153.0,114.6 L153.2,116.1 L153.4,117.6 L153.6,119.1 L153.8,120.6 L154.0,122.1 L154.2,123.6 L154.4,125.0 L154.5,126.5 L154.7,128.0 L154.9,129.5 L155.0,131.0 L155.2,132.5 L155.3,134.0 L155.5,135.5 L155.6,137.0 L155.8,138.5 L155.9,140.0 L156.1,141.5 L156.2,142.9 L156.4,144.4 L156.5,145.9 L156.7,147.4 L156.8,148.9 L157.0,150.4 L157.1,151.9 L157.3,153.4 L157.4,154.9 L157.5,156.4 L157.7,157.9 L157.8,159.4 L158.0,160.9 L158.1,162.4 L158.3,163.8 L158.5,165.3 L158.6,166.8 L158.8,168.3 L158.9,169.8 L159.1,171.3 L159.3,172.8 L159.4,174.3 L159.6,175.8 L159.8,177.3 L160.0,178.7 L160.2,180.2 L160.4,181.7 L160.7,183.2 L160.9,184.7 L161.2,186.2 L161.5,187.6 L161.7,189.1 L162.1,190.6 L162.4,192.0 L162.7,193.5 L163.0,195.0 L163.3,196.4 L163.7,197.9 L164.0,199.4 L164.2,200.8 L164.5,202.3 L164.8,203.8 L165.1,205.2 L165.4,206.7 L165.7,208.2 L165.9,209.7 L166.2,211.1 L166.5,212.6 L166.8,214.1 L167.1,215.6 L167.4,217.0 L167.6,218.5 L167.9,220.0 L168.2,221.5 L168.5,222.9 L168.8,224.4 L169.1,225.9 L169.4,227.3 L169.7,228.8 L170.0,230.3 L170.3,231.8 L170.5,233.2 L170.8,234.7 L171.1,236.2 L171.4,237.6 L171.7,239.1 L172.0,240.6 L172.3,242.0 L172.6,243.5 L172.9,245.0 L173.2,246.5 L173.5,247.9 L173.8,249.4 L174.2,250.9 L174.5,252.3 L174.8,253.8 L175.1,255.3 L175.4,256.7 L175.7,258.2 L176.0,259.7 L176.4,261.1 L176.7,262.6 L177.0,264.1 L177.3,265.5 L177.7,267.0 L178.0,268.4 L178.3,269.9 L178.7,271.4 L179.0,272.8 L179.4,274.3 L179.7,275.7 L180.1,277.2 L180.5,278.6 L180.8,280.1 L181.2,281.5 L181.6,283.0 L182.0,284.4 L182.5,285.9 L182.9,287.3 L183.3,288.7 L183.8,290.2 L184.2,291.6 L184.7,293.0 L185.1,294.5 L185.6,295.9 L186.0,297.3 L186.4,298.8 L186.9,300.2 L187.3,301.7 L187.7,303.1 L188.2,304.5 L188.6,306.0 L189.0,307.4 L189.5,308.8 L189.9,310.3 L190.3,311.7 L190.7,313.1 L191.2,314.6 L191.6,316.0 L192.0,317.5 L192.4,318.9 L192.8,320.3 L193.2,321.8 L193.7,323.2 L194.1,324.7 L194.5,326.1 L195.0,327.5 L195.4,329.0 L195.9,330.4 L196.4,331.8 L196.9,333.2 L197.4,334.6 L198.0,336.0 L198.5,337.4 L199.0,338.8 L199.6,340.2 L200.2,341.6 L200.7,343.0 L201.3,344.4 L201.9,345.7 L202.5,347.1 L203.2,348.5 L203.8,349.8 L204.4,351.2 L205.1,352.5 L205.8,353.9 L206.5,355.2 L207.2,356.5 L207.8,357.9 L208.5,359.2 L209.2,360.5 L209.9,361.9 L210.5,363.2 L211.2,364.6 L211.8,366.0 L212.3,367.3 L212.9,368.7 L213.5,370.1 L214.0,371.5 L214.5,372.9 L215.1,374.3 L215.6,375.7 L216.2,377.1 L216.8,378.5 L217.4,379.9 L218.1,381.2 L218.7,382.5 L219.4,383.9 L220.1,385.2 L220.9,386.5 L221.6,387.8 L222.4,389.1 L223.1,390.4 L223.9,391.7 L224.7,392.9 L225.5,394.2 L226.4,395.4 L227.2,396.7 L228.1,397.9 L228.9,399.1 L229.8,400.3 L230.7,401.5 L231.6,402.7 L232.5,403.9 L233.4,405.1 L234.3,406.3 L235.2,407.6 L236.1,408.8 L236.9,410.0 L237.8,411.3 L238.6,412.5 L239.4,413.8 L240.2,415.0 L241.0,416.3 L241.8,417.6 L242.6,418.8 L243.4,420.1 L244.2,421.4 L245.1,422.6 L245.9,423.9 L246.7,425.1 L247.5,426.4 L248.3,427.6 L249.2,428.9 L250.0,430.1 L250.9,431.3 L251.8,432.6 L252.7,433.8 L253.6,435.0 L254.5,436.1 L255.4,437.3 L256.4,438.5 L257.3,439.6 L258.3,440.7 L259.3,441.9 L260.3,443.0 L261.3,444.1 L262.4,445.2 L263.4,446.3 L264.5,447.3 L265.5,448.4 L266.6,449.4 L267.7,450.5 L268.8,451.5 L269.9,452.5 L271.0,453.5 L272.2,454.5 L273.3,455.4 L274.5,456.4 L275.7,457.3 L276.9,458.2 L278.1,459.1 L279.3,459.9 L280.6,460.7 L281.8,461.5 L283.1,462.3 L284.4,463.1 L285.7,463.9 L287.0,464.6 L288.3,465.3 L289.6,466.1 L290.9,466.8 L292.2,467.5 L293.5,468.2 L294.9,469.0 L296.2,469.7 L297.5,470.4 L298.8,471.2 L300.1,471.9 L301.4,472.7 L302.7,473.4 L304.0,474.2 L305.2,475.0 L306.5,475.7 L307.8,476.5 L309.1,477.2 L310.4,478.0 L311.8,478.7 L313.1,479.4 L314.4,480.1 L315.7,480.8 L317.0,481.5 L318.4,482.2 L319.7,482.9 L321.0,483.6 L322.4,484.2 L323.8,484.8 L325.1,485.4 L326.5,486.0 L327.9,486.6 L329.3,487.2 L330.7,487.8 L332.1,488.3 L333.5,488.9 L334.8,489.4 L336.2,490.0 L337.6,490.5 L339.0,491.1 L340.4,491.7 L341.8,492.3 L343.1,492.9 L344.5,493.5 L345.9,494.2 L347.2,494.8 L348.6,495.4 L350.0,496.0 L351.4,496.6 L352.7,497.2 L354.1,497.7 L355.5,498.2 L357.0,498.7 L358.4,499.2 L359.8,499.7 L361.2,500.2 L362.7,500.6 L364.1,501.0 L365.5,501.5 L367.0,501.9 L368.4,502.3 L369.8,502.7 L371.3,503.2 L372.7,503.6 L374.2,504.0 L375.6,504.4 L377.1,504.8 L378.5,505.2 L380.0,505.6 L381.4,506.0 L382.9,506.3 L384.3,506.7 L385.8,507.1 L387.2,507.5 L388.7,507.9 L390.1,508.3 L391.6,508.6 L393.0,509.0 L394.5,509.4 L395.9,509.7 L397.4,510.1 L398.8,510.5 L400.3,510.8 L401.7,511.2 L403.2,511.6 L404.7,511.9 L406.1,512.3 L407.6,512.6 L409.0,513.0 L410.5,513.3 L411.9,513.7 L413.4,514.0 L414.9,514.4 L416.3,514.7 L417.8,515.0 L419.2,515.4 L420.7,515.7 L422.2,516.0 L423.6,516.4 L425.1,516.7 L426.6,517.0 L428.0,517.3 L429.5,517.6 L431.0,517.9 L432.4,518.2 L433.9,518.5 L435.4,518.8 L436.9,519.1 L438.3,519.4 L439.8,519.6 L441.3,519.9 L442.8,520.2 L444.2,520.4 L445.7,520.7 L447.2,520.9 L448.7,521.2 L450.2,521.4 L451.6,521.7 L453.1,521.9 L454.6,522.1 L456.1,522.3 L457.6,522.6 L459.1,522.8 L460.5,523.0 L462.0,523.2 L463.5,523.4 L465.0,523.6 L466.5,523.8 L468.0,524.0 L469.5,524.2 L470.9,524.4 L472.4,524.6 L473.9,524.8 L475.4,525.0 L476.9,525.2 L478.4,525.4 L479.9,525.5 L481.4,525.7 L482.8,525.9 L484.3,526.1 L485.8,526.3 L487.3,526.4 L488.8,526.6 L490.3,526.8 L491.8,526.9 L493.3,527.1 L494.8,527.3 L496.3,527.4 L497.8,527.6 L499.2,527.7 L500.7,527.9 L502.2,528.0 L503.7,528.2 L505.2,528.3 L506.7,528.5 L508.2,528.6 L509.7,528.8 L511.2,528.9 L512.7,529.1 L514.2,529.2 L515.7,529.4 L517.2,529.5 L518.6,529.7 L520.1,529.8 L521.6,530.0 L523.1,530.1 L524.6,530.3 L526.1,530.4 L527.6,530.6 L529.1,530.7 L530.6,530.9 L532.1,531.0 L533.6,531.2 L535.1,531.4 L536.6,531.5 L538.0,531.7 L539.5,531.8 L541.0,531.9 L542.5,532.1 L544.0,532.2 L545.5,532.4 L547.0,532.5 L548.5,532.6 L550.0,532.7 L551.5,532.8 L553.0,532.9 L554.5,533.0 L556.0,533.1 L557.5,533.2 L559.0,533.3 L560.5,533.4 L562.0,533.5 L563.5,533.6 L565.0,533.6 L566.5,533.7 L568.0,533.8 L569.5,533.8 L571.0,533.9 L572.5,534.0 L574.0,534.0 L575.5,534.1 L577.0,534.1 L578.5,534.2 L580.0,534.2 L581.5,534.3 L583.0,534.3 L584.5,534.4 L586.0,534.4 L587.5,534.4 L589.0,534.5 L590.5,534.5 L592.0,534.6 L593.5,534.6 L595.0,534.7 L596.5,534.7 L598.0,534.8 L599.5,534.8 L601.0,534.8 L602.4,534.9 L603.9,534.9 L605.4,535.0 L606.9,535.0 L608.4,535.1 L609.9,535.1 L611.4,535.2 L612.9,535.2 L614.4,535.3 L615.9,535.3 L617.4,535.4 L618.9,535.5 L620.4,535.5 L621.9,535.6 L623.4,535.6 L624.9,535.7 L626.4,535.8 L627.9,535.8 L629.4,535.9 L630.9,536.0 L632.4,536.0 L633.9,536.1 L635.4,536.2 L636.9,536.2 L638.4,536.3 L639.9,536.4 L641.4,536.4 L642.9,536.5 L644.4,536.6 L645.9,536.6 L647.4,536.7 L648.9,536.8 L650.4,536.8 L651.9,536.9 L653.4,537.0 L654.9,537.1 L656.4,537.1 L657.9,537.2 L659.4,537.3 L660.9,537.3 L662.4,537.4 L663.9,537.5 L665.4,537.5 L666.9,537.6 L668.4,537.7 L669.9,537.8 L671.4,537.8 L672.9,537.9 L674.4,538.0 L675.9,538.0 L677.4,538.1 L678.9,538.2 L680.4,538.3 L681.9,538.3 L683.4,538.4 L684.9,538.5 L686.4,538.5 L687.9,538.6 L689.3,538.7 L690.8,538.7 L692.2,538.8 L693.5,538.9 L694.0,538.9" stroke="#cfa0d3"/>
</g>
<g font-size="28.7" fill="#000">
<text transform="translate(130.6,625.3) scale(1.000,1)" text-anchor="end">0</text>
<text transform="translate(130.6,552.0) scale(1.040,1)" text-anchor="end">0.01</text>
<text transform="translate(130.6,478.8) scale(1.040,1)" text-anchor="end">0.02</text>
<text transform="translate(130.6,405.5) scale(1.040,1)" text-anchor="end">0.03</text>
<text transform="translate(130.6,332.2) scale(1.040,1)" text-anchor="end">0.04</text>
<text transform="translate(130.6,258.9) scale(1.040,1)" text-anchor="end">0.05</text>
<text transform="translate(130.6,185.6) scale(1.040,1)" text-anchor="end">0.06</text>
<text transform="translate(130.6,112.4) scale(1.040,1)" text-anchor="end">0.07</text>
<text transform="translate(130.6,39.1) scale(1.040,1)" text-anchor="end">0.08</text>
<text x="165.7" y="652.6" text-anchor="middle">1</text>
<text x="330.2" y="652.6" text-anchor="middle">5</text>
<text x="494.7" y="652.6" text-anchor="middle">9</text>
<text x="659.2" y="652.6" text-anchor="middle">13</text>
</g>
<g font-size="25" fill="#000">
<path d="M494.5,74.1H577" stroke="#cfa0d3" stroke-width="2.8"/>
<text x="591.5" y="82.0">160 K</text>
<path d="M494.5,108.1H577" stroke="#9a3e9e" stroke-width="2.8"/>
<text x="591.5" y="116.0">140 K</text>
<path d="M494.5,142.1H577" stroke="#3c3dc0" stroke-width="2.8"/>
<text x="591.5" y="149.9">120 K</text>
<path d="M494.5,176.1H577" stroke="#0b7fd6" stroke-width="2.8"/>
<text x="591.5" y="183.9">110 K</text>
<path d="M494.5,210.1H577" stroke="#5bbedb" stroke-width="2.8"/>
<text x="591.5" y="217.8">100 K</text>
<path d="M494.5,244.1H577" stroke="#1fa84b" stroke-width="2.8"/>
<text x="591.5" y="251.8">90 K</text>
<path d="M494.5,278.1H577" stroke="#a5d62b" stroke-width="2.8"/>
<text x="591.5" y="285.8">80 K</text>
<path d="M494.5,312.1H577" stroke="#fdcf8c" stroke-width="2.8"/>
<text x="591.5" y="319.7">60 K</text>
<path d="M494.5,346.1H577" stroke="#f47d2a" stroke-width="2.8"/>
<text x="591.5" y="353.7">40 K</text>
<path d="M494.5,380.1H577" stroke="#e3202b" stroke-width="2.8"/>
<text x="591.5" y="387.6">20 K</text>
<path d="M494.5,414.1H577" stroke="#b7774f" stroke-width="2.8"/>
<text x="591.5" y="421.6">5 K</text>
</g>
<text x="422.7" y="699" font-size="29" text-anchor="middle"><tspan font-style="italic">B</tspan> (T)</text>
<text transform="translate(37.30,435.11) rotate(-90) scale(1.120,1)" font-size="33.0" font-family='"Liberation Serif", serif'>α</text><text transform="translate(45.60,414.70) rotate(-90) scale(1.000,1)" font-size="20.0" font-family='"Liberation Sans", sans-serif' font-style="italic">xy</text><text transform="translate(37.30,390.00) rotate(-90) scale(1.000,1)" font-size="29.0" font-family='"Liberation Sans", sans-serif'>/</text><text transform="translate(37.30,379.11) rotate(-90) scale(1.000,1)" font-size="29.0" font-family='"Liberation Sans", sans-serif' font-style="italic">T</text><text transform="translate(37.30,354.90) rotate(-90) scale(1.000,1)" font-size="29.0" font-family='"Liberation Sans", sans-serif'>(</text><text transform="translate(37.30,344.65) rotate(-90) scale(0.930,1)" font-size="29.0" font-family='"Liberation Sans", sans-serif'>A</text><text transform="translate(37.30,319.80) rotate(-90) scale(1.050,1)" font-size="29.0" font-family='"Liberation Sans", sans-serif'>K</text><text transform="translate(25.00,299.59) rotate(-90) scale(1.000,1)" font-size="20.0" font-family='"Liberation Sans", sans-serif'>−2</text><text transform="translate(37.30,267.43) rotate(-90) scale(1.000,1)" font-size="29.0" font-family='"Liberation Sans", sans-serif'>m</text><text transform="translate(25.00,242.59) rotate(-90) scale(0.900,1)" font-size="20.0" font-family='"Liberation Sans", sans-serif'>−1</text><text transform="translate(37.30,217.17) rotate(-90) scale(1.000,1)" font-size="29.0" font-family='"Liberation Sans", sans-serif'>)</text>
<text x="-1" y="31.2" font-size="42" font-weight="bold">a</text>
<g stroke="#000" stroke-width="1.3" fill="none">
<rect x="851.7" y="29.4" width="553.6" height="585.6"/>
<path d="M933.2,615.0v-6.0M933.2,29.4v6.0"/>
<path d="M1014.7,615.0v-12.0M1014.7,29.4v12.0"/>
<path d="M1096.2,615.0v-6.0M1096.2,29.4v6.0"/>
<path d="M1177.7,615.0v-12.0M1177.7,29.4v12.0"/>
<path d="M1259.1,615.0v-6.0M1259.1,29.4v6.0"/>
<path d="M1340.6,615.0v-12.0M1340.6,29.4v12.0"/>
<path d="M851.7,517.4h6.0M1405.3,517.4h-6.0"/>
<path d="M851.7,419.8h12.0M1405.3,419.8h-12.0"/>
<path d="M851.7,322.2h6.0M1405.3,322.2h-6.0"/>
<path d="M851.7,224.6h12.0M1405.3,224.6h-12.0"/>
<path d="M851.7,127.0h6.0M1405.3,127.0h-6.0"/>
</g>
<g fill="none" stroke-width="2.9" stroke-linejoin="round">
<polyline points="868.0,610.0 916.9,587.4 982.1,541.4 1047.3,506.0 1112.5,442.0 1145.1,388.2 1177.7,362.1 1210.2,322.9 1242.8,339.4 1308.0,277.4 1373.2,138.1" stroke="#d8b619"/>
<circle cx="868.0" cy="610.0" r="7.5" stroke="#d8b619"/>
<circle cx="916.9" cy="587.4" r="7.5" stroke="#d8b619"/>
<circle cx="982.1" cy="541.4" r="7.5" stroke="#d8b619"/>
<circle cx="1047.3" cy="506.0" r="7.5" stroke="#d8b619"/>
<circle cx="1112.5" cy="442.0" r="7.5" stroke="#d8b619"/>
<circle cx="1145.1" cy="388.2" r="7.5" stroke="#d8b619"/>
<circle cx="1177.7" cy="362.1" r="7.5" stroke="#d8b619"/>
<circle cx="1210.2" cy="322.9" r="7.5" stroke="#d8b619"/>
<circle cx="1242.8" cy="339.4" r="7.5" stroke="#d8b619"/>
<circle cx="1308.0" cy="277.4" r="7.5" stroke="#d8b619"/>
<circle cx="1373.2" cy="138.1" r="7.5" stroke="#d8b619"/>
<polyline points="868.0,606.0 916.9,584.2 982.1,537.0 1047.3,503.0 1112.5,444.0 1145.1,402.2 1177.7,375.7 1210.2,338.1 1242.8,345.6 1308.0,310.0 1373.2,215.7" stroke="#6bd21e"/>
<circle cx="868.0" cy="606.0" r="7.5" stroke="#6bd21e"/>
<circle cx="916.9" cy="584.2" r="7.5" stroke="#6bd21e"/>
<circle cx="982.1" cy="537.0" r="7.5" stroke="#6bd21e"/>
<circle cx="1047.3" cy="503.0" r="7.5" stroke="#6bd21e"/>
<circle cx="1112.5" cy="444.0" r="7.5" stroke="#6bd21e"/>
<circle cx="1145.1" cy="402.2" r="7.5" stroke="#6bd21e"/>
<circle cx="1177.7" cy="375.7" r="7.5" stroke="#6bd21e"/>
<circle cx="1210.2" cy="338.1" r="7.5" stroke="#6bd21e"/>
<circle cx="1242.8" cy="345.6" r="7.5" stroke="#6bd21e"/>
<circle cx="1308.0" cy="310.0" r="7.5" stroke="#6bd21e"/>
<circle cx="1373.2" cy="215.7" r="7.5" stroke="#6bd21e"/>
<polyline points="868.0,604.6 916.9,582.0 982.1,533.0 1047.3,500.0 1112.5,444.0 1145.1,406.8 1177.7,383.0 1210.2,345.6 1242.8,349.4 1308.0,324.0 1373.2,259.3" stroke="#1e9fdc"/>
<circle cx="868.0" cy="604.6" r="7.5" stroke="#1e9fdc"/>
<circle cx="916.9" cy="582.0" r="7.5" stroke="#1e9fdc"/>
<circle cx="982.1" cy="533.0" r="7.5" stroke="#1e9fdc"/>
<circle cx="1047.3" cy="500.0" r="7.5" stroke="#1e9fdc"/>
<circle cx="1112.5" cy="444.0" r="7.5" stroke="#1e9fdc"/>
<circle cx="1145.1" cy="406.8" r="7.5" stroke="#1e9fdc"/>
<circle cx="1177.7" cy="383.0" r="7.5" stroke="#1e9fdc"/>
<circle cx="1210.2" cy="345.6" r="7.5" stroke="#1e9fdc"/>
<circle cx="1242.8" cy="349.4" r="7.5" stroke="#1e9fdc"/>
<circle cx="1308.0" cy="324.0" r="7.5" stroke="#1e9fdc"/>
<circle cx="1373.2" cy="259.3" r="7.5" stroke="#1e9fdc"/>
<polyline points="868.0,603.5 916.9,577.6 982.1,529.0 1047.3,497.0 1112.5,443.0 1145.1,410.9 1177.7,390.5 1210.2,350.1 1242.8,349.4 1308.0,332.0 1373.2,280.5" stroke="#1c1dcc"/>
<circle cx="868.0" cy="603.5" r="7.5" stroke="#1c1dcc"/>
<circle cx="916.9" cy="577.6" r="7.5" stroke="#1c1dcc"/>
<circle cx="982.1" cy="529.0" r="7.5" stroke="#1c1dcc"/>
<circle cx="1047.3" cy="497.0" r="7.5" stroke="#1c1dcc"/>
<circle cx="1112.5" cy="443.0" r="7.5" stroke="#1c1dcc"/>
<circle cx="1145.1" cy="410.9" r="7.5" stroke="#1c1dcc"/>
<circle cx="1177.7" cy="390.5" r="7.5" stroke="#1c1dcc"/>
<circle cx="1210.2" cy="350.1" r="7.5" stroke="#1c1dcc"/>
<circle cx="1242.8" cy="349.4" r="7.5" stroke="#1c1dcc"/>
<circle cx="1308.0" cy="332.0" r="7.5" stroke="#1c1dcc"/>
<circle cx="1373.2" cy="280.5" r="7.5" stroke="#1c1dcc"/>
<polyline points="868.0,603.3 916.9,576.3 982.1,526.5 1047.3,495.4 1112.5,440.5 1145.1,410.9 1177.7,390.5 1210.2,351.7 1242.8,349.4 1308.0,334.2 1373.2,286.8" stroke="#a012dc"/>
<path d="M916.9,568.9V583.7M908.4,568.9h17M908.4,583.7h17" stroke="#a012dc"/>
<path d="M982.1,509.5V534.3M973.6,509.5h17M973.6,534.3h17" stroke="#a012dc"/>
<path d="M1047.3,475.6V506.0M1038.8,475.6h17M1038.8,506.0h17" stroke="#a012dc"/>
<path d="M1112.5,412.9V456.5M1104.0,412.9h17M1104.0,456.5h17" stroke="#a012dc"/>
<path d="M1145.1,379.1V429.5M1136.6,379.1h17M1136.6,429.5h17" stroke="#a012dc"/>
<path d="M1177.7,356.9V411.3M1169.2,356.9h17M1169.2,411.3h17" stroke="#a012dc"/>
<path d="M1210.2,313.4V376.2M1201.7,313.4h17M1201.7,376.2h17" stroke="#a012dc"/>
<path d="M1242.8,312.0V375.0M1234.3,312.0h17M1234.3,375.0h17" stroke="#a012dc"/>
<path d="M1308.0,294.1V360.7M1299.5,294.1h17M1299.5,360.7h17" stroke="#a012dc"/>
<path d="M1373.2,239.4V316.4M1364.7,239.4h17M1364.7,316.4h17" stroke="#a012dc"/>
<circle cx="868.0" cy="603.3" r="7.5" stroke="#a012dc"/>
<circle cx="916.9" cy="576.3" r="7.5" stroke="#a012dc"/>
<circle cx="982.1" cy="526.5" r="7.5" stroke="#a012dc"/>
<circle cx="1047.3" cy="495.4" r="7.5" stroke="#a012dc"/>
<circle cx="1112.5" cy="440.5" r="7.5" stroke="#a012dc"/>
<circle cx="1145.1" cy="410.9" r="7.5" stroke="#a012dc"/>
<circle cx="1177.7" cy="390.5" r="7.5" stroke="#a012dc"/>
<circle cx="1210.2" cy="351.7" r="7.5" stroke="#a012dc"/>
<circle cx="1242.8" cy="349.4" r="7.5" stroke="#a012dc"/>
<circle cx="1308.0" cy="334.2" r="7.5" stroke="#a012dc"/>
<circle cx="1373.2" cy="286.8" r="7.5" stroke="#a012dc"/>
</g>
<path d="M851.7,615.0L1373.2,279.0" stroke="#ff0000" stroke-width="4.4" stroke-dasharray="16.5 4.2 8 4.2" fill="none"/>
<g font-size="28.7" fill="#000">
<text x="836.6" y="624.8" text-anchor="end">0</text>
<text x="836.6" y="429.6" text-anchor="end">1</text>
<text x="836.6" y="234.4" text-anchor="end">2</text>
<text x="836.6" y="39.2" text-anchor="end">3</text>
<text x="851.7" y="652" text-anchor="middle">0</text>
<text x="1014.7" y="652" text-anchor="middle">50</text>
<text x="1177.7" y="652" text-anchor="middle">100</text>
<text x="1340.6" y="652" text-anchor="middle">150</text>
</g>
<g font-size="25" fill="#000">
<g fill="none" stroke="#d8b619" stroke-width="2.9"><path d="M992.7,103.4H1074.3"/><circle cx="1033.5" cy="103.4" r="7.5"/>
</g>
<text x="1087.3" y="110.9">6 T</text>
<g fill="none" stroke="#6bd21e" stroke-width="2.9"><path d="M992.7,137.2H1074.3"/><circle cx="1033.5" cy="137.2" r="7.5"/>
</g>
<text x="1087.3" y="144.8">8 T</text>
<g fill="none" stroke="#1e9fdc" stroke-width="2.9"><path d="M992.7,171.1H1074.3"/><circle cx="1033.5" cy="171.1" r="7.5"/>
</g>
<text x="1087.3" y="178.6">10 T</text>
<g fill="none" stroke="#1c1dcc" stroke-width="2.9"><path d="M992.7,205.0H1074.3"/><circle cx="1033.5" cy="205.0" r="7.5"/>
</g>
<text x="1087.3" y="212.5">12 T</text>
<g fill="none" stroke="#a012dc" stroke-width="2.9"><path d="M992.7,238.8H1074.3"/><circle cx="1033.5" cy="238.8" r="7.5"/>
<path d="M1033.5,225.3V253.3M1025,225.3h17M1025,253.3h17"/>
</g>
<text x="1087.3" y="246.3">14 T</text>
</g>
<text x="1130.2" y="696.4" font-size="29" text-anchor="middle"><tspan font-style="italic">T</tspan> (K)</text>
<text transform="translate(790.50,420.41) rotate(-90) scale(1.120,1)" font-size="33.0" font-family='"Liberation Serif", serif'>α</text><text transform="translate(799.20,400.30) rotate(-90) scale(1.000,1)" font-size="20.0" font-family='"Liberation Sans", sans-serif' font-style="italic">xy</text><text transform="translate(790.50,369.40) rotate(-90) scale(1.000,1)" font-size="29.0" font-family='"Liberation Sans", sans-serif'>(</text><text transform="translate(790.50,359.45) rotate(-90) scale(0.930,1)" font-size="29.0" font-family='"Liberation Sans", sans-serif'>A</text><text transform="translate(790.50,333.10) rotate(-90) scale(1.050,1)" font-size="29.0" font-family='"Liberation Sans", sans-serif'>K</text><text transform="translate(778.00,313.69) rotate(-90) scale(0.900,1)" font-size="20.0" font-family='"Liberation Sans", sans-serif'>−1</text><text transform="translate(790.50,282.43) rotate(-90) scale(1.000,1)" font-size="29.0" font-family='"Liberation Sans", sans-serif'>m</text><text transform="translate(778.00,257.59) rotate(-90) scale(0.900,1)" font-size="20.0" font-family='"Liberation Sans", sans-serif'>−1</text><text transform="translate(790.50,232.17) rotate(-90) scale(1.000,1)" font-size="29.0" font-family='"Liberation Sans", sans-serif'>)</text>
<text x="750.8" y="31.6" font-size="42" font-weight="bold">b</text>
</svg></body></html>
